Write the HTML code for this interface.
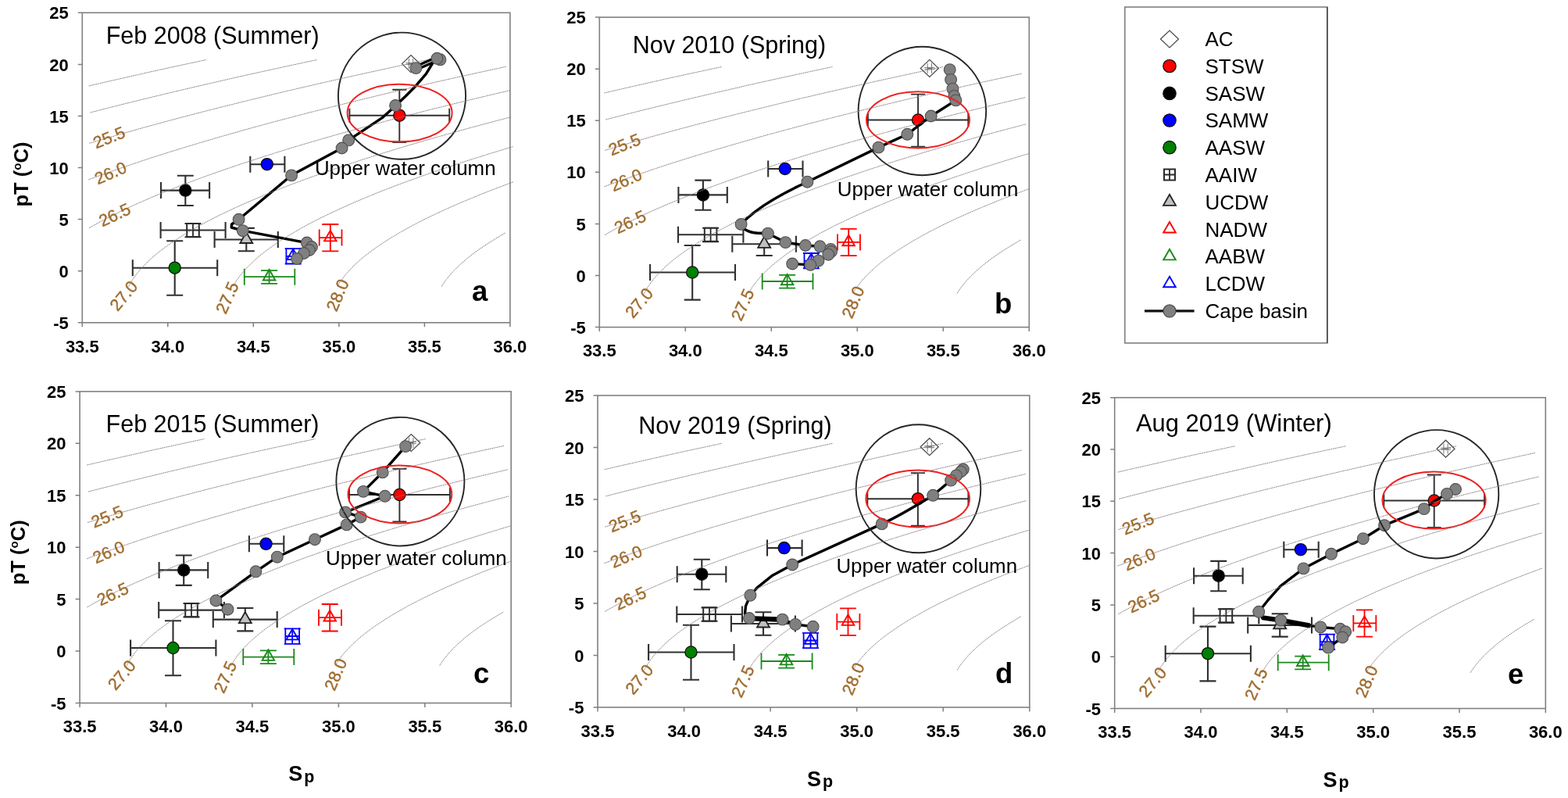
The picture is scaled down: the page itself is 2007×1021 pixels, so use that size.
<!DOCTYPE html><html><head><meta charset="utf-8"><title>TS diagrams</title><style>html,body{margin:0;padding:0;background:#fff}svg{display:block}text{font-family:"Liberation Sans", Arial, sans-serif}</style></head><body>
<svg width="2007" height="1021" viewBox="0 0 2007 1021">
<rect width="2007" height="1021" fill="#fff"/>
<rect x="105.3" y="16.3" width="547.6" height="396.5" fill="#fff" stroke="#808080" stroke-width="1.6"/>
<path d="M105.3 412.8v5.5M214.8 412.8v5.5M324.3 412.8v5.5M433.9 412.8v5.5M543.4 412.8v5.5M652.9 412.8v5.5M105.3 16.3h-5.5M105.3 82.4h-5.5M105.3 148.5h-5.5M105.3 214.6h-5.5M105.3 280.6h-5.5M105.3 346.7h-5.5M105.3 412.8h-5.5" stroke="#808080" stroke-width="1.5" fill="none"/>
<text x="105.3" y="450.6" text-anchor="middle" font-weight="bold" font-size="22">33.5</text>
<text x="214.8" y="450.6" text-anchor="middle" font-weight="bold" font-size="22">34.0</text>
<text x="324.3" y="450.6" text-anchor="middle" font-weight="bold" font-size="22">34.5</text>
<text x="433.9" y="450.6" text-anchor="middle" font-weight="bold" font-size="22">35.0</text>
<text x="543.4" y="450.6" text-anchor="middle" font-weight="bold" font-size="22">35.5</text>
<text x="652.9" y="450.6" text-anchor="middle" font-weight="bold" font-size="22">36.0</text>
<text x="87.7" y="24.4" text-anchor="end" font-weight="bold" font-size="22">25</text>
<text x="87.7" y="90.5" text-anchor="end" font-weight="bold" font-size="22">20</text>
<text x="87.7" y="156.6" text-anchor="end" font-weight="bold" font-size="22">15</text>
<text x="87.7" y="222.7" text-anchor="end" font-weight="bold" font-size="22">10</text>
<text x="87.7" y="288.7" text-anchor="end" font-weight="bold" font-size="22">5</text>
<text x="87.7" y="354.8" text-anchor="end" font-weight="bold" font-size="22">0</text>
<text x="87.7" y="420.9" text-anchor="end" font-weight="bold" font-size="22">-5</text>
<polygon points="514.5,81.6 526.0,70.6 537.5,81.6 526.0,92.6" fill="#fff" stroke="#4a4a4a" stroke-width="1.25"/>
<path d="M523.4 81.6H528.6M523.4 75.1v13.0M528.6 75.1v13.0" stroke="#6a6a6a" stroke-width="0.9" fill="none"/><path d="M526.0 80.6V82.6M519.5 80.6h13.0M519.5 82.6h13.0" stroke="#6a6a6a" stroke-width="0.9" fill="none"/>
<path d="M169.8 342.7H278.2M169.8 332.2v21.0M278.2 332.2v21.0" stroke="#303030" stroke-width="2.1" fill="none"/><path d="M223.7 308.2V377.8M213.2 308.2h21.0M213.2 377.8h21.0" stroke="#303030" stroke-width="2.1" fill="none"/>
<circle cx="223.7" cy="342.7" r="7.6" fill="#008000" stroke="#111" stroke-width="1.3"/>
<path d="M206.0 243.6H268.1M206.0 233.1v21.0M268.1 233.1v21.0" stroke="#303030" stroke-width="2.1" fill="none"/><path d="M237.3 224.8V263.0M226.8 224.8h21.0M226.8 263.0h21.0" stroke="#303030" stroke-width="2.1" fill="none"/>
<circle cx="237.3" cy="243.6" r="7.6" fill="#000000" stroke="#111" stroke-width="1.3"/>
<path d="M320.3 210.2H364.4M320.3 199.7v21.0M364.4 199.7v21.0" stroke="#303030" stroke-width="2.1" fill="none"/>
<circle cx="341.8" cy="210.2" r="7.6" fill="#0000ff" stroke="#111" stroke-width="1.3"/>
<path d="M205.6 294.5H288.6M205.6 284.0v21.0M288.6 284.0v21.0" stroke="#303030" stroke-width="2.1" fill="none"/><path d="M247.0 286.0V303.3M236.5 286.0h21.0M236.5 303.3h21.0" stroke="#303030" stroke-width="2.1" fill="none"/>
<rect x="239.2" y="286.0" width="15.6" height="17.0" fill="#fff" stroke="#2a2a2a" stroke-width="2"/><path d="M239.2 294.5h15.6M247.0 286.0v17.0" stroke="#2a2a2a" stroke-width="1.8"/>
<path d="M274.6 306.5H355.8M274.6 296.0v21.0M355.8 296.0v21.0" stroke="#303030" stroke-width="2.1" fill="none"/><path d="M315.3 291.9V321.2M304.8 291.9h21.0M304.8 321.2h21.0" stroke="#303030" stroke-width="2.1" fill="none"/>
<polygon points="307.3,311.0 323.3,311.0 315.3,297.0" fill="#c0c0c0" stroke="#222" stroke-width="1.8"/>
<path d="M408.7 304.1H437.5M408.7 293.6v21.0M437.5 293.6v21.0" stroke="#ff0000" stroke-width="1.8" fill="none"/><path d="M422.8 287.0V321.3M412.3 287.0h21.0M412.3 321.3h21.0" stroke="#ff0000" stroke-width="1.8" fill="none"/>
<polygon points="415.1,308.4 430.6,308.4 422.8,294.9" fill="none" stroke="#ff0000" stroke-width="1.9"/>
<path d="M312.8 354.2H377.3M312.8 343.7v21.0M377.3 343.7v21.0" stroke="#1a8a1a" stroke-width="1.8" fill="none"/><path d="M344.6 346.1V362.8M334.1 346.1h21.0M334.1 362.8h21.0" stroke="#1a8a1a" stroke-width="1.8" fill="none"/>
<polygon points="336.9,358.5 352.4,358.5 344.6,345.0" fill="none" stroke="#1a8a1a" stroke-width="1.9"/>
<path d="M366.4 327.8H384.0M366.4 317.3v21.0M384.0 317.3v21.0" stroke="#0000ff" stroke-width="1.8" fill="none"/><path d="M375.2 318.2V337.5M364.7 318.2h21.0M364.7 337.5h21.0" stroke="#0000ff" stroke-width="1.8" fill="none"/>
<polygon points="367.4,332.1 382.9,332.1 375.2,318.6" fill="none" stroke="#0000ff" stroke-width="1.9"/>
<path d="M447.4 147.7H575.2M447.4 138.7v18M575.2 138.7v18" stroke="#303030" stroke-width="1.9" fill="none"/><path d="M511.3 114.8V182.0M502.3 114.8h18M502.3 182.0h18" stroke="#303030" stroke-width="1.9" fill="none"/><circle cx="511.3" cy="147.7" r="7.6" fill="#ff0000" stroke="#111" stroke-width="1.3"/>
<path d="M531 85.5L558 73.5M533.5 89L560.5 77" fill="none" stroke="#000" stroke-width="3.4" stroke-linejoin="round" stroke-linecap="round"/>
<path d="M559.4 74.8L553.9 80.6L545.3 94.7L532.4 109.7L519.5 122.7L506.6 135L489.3 150.7L463.4 167.9L446.2 179.4L437.6 189.5L373.4 224L305.6 280.8L296.5 287L296.2 291L310.8 295.2L385.8 309.3L392.8 310.5L399 316L389 324L380 331" fill="none" stroke="#000" stroke-width="3.4" stroke-linejoin="round" stroke-linecap="round"/>
<circle cx="563.5" cy="76.3" r="7.4" fill="#808080" stroke="#505050" stroke-width="1.1"/>
<circle cx="559.4" cy="74.8" r="7.4" fill="#808080" stroke="#505050" stroke-width="1.1"/>
<circle cx="532.4" cy="87.1" r="7.4" fill="#808080" stroke="#505050" stroke-width="1.1"/>
<circle cx="506.1" cy="135.0" r="7.4" fill="#808080" stroke="#505050" stroke-width="1.1"/>
<circle cx="446.2" cy="179.4" r="7.4" fill="#808080" stroke="#505050" stroke-width="1.1"/>
<circle cx="437.6" cy="189.5" r="7.4" fill="#808080" stroke="#505050" stroke-width="1.1"/>
<circle cx="373.1" cy="224.4" r="7.4" fill="#808080" stroke="#505050" stroke-width="1.1"/>
<circle cx="305.6" cy="280.8" r="7.4" fill="#808080" stroke="#505050" stroke-width="1.1"/>
<circle cx="310.8" cy="295.2" r="7.4" fill="#808080" stroke="#505050" stroke-width="1.1"/>
<circle cx="392.8" cy="310.5" r="7.4" fill="#808080" stroke="#505050" stroke-width="1.1"/>
<circle cx="399.0" cy="316.0" r="7.4" fill="#808080" stroke="#505050" stroke-width="1.1"/>
<circle cx="396.0" cy="320.0" r="7.4" fill="#808080" stroke="#505050" stroke-width="1.1"/>
<circle cx="389.0" cy="324.0" r="7.4" fill="#808080" stroke="#505050" stroke-width="1.1"/>
<circle cx="380.0" cy="331.0" r="7.4" fill="#808080" stroke="#505050" stroke-width="1.1"/>
<ellipse cx="514.5" cy="122.7" rx="81.6" ry="81.1" fill="none" stroke="#262626" stroke-width="1.9"/>
<ellipse cx="511.6" cy="144.5" rx="67" ry="36.8" fill="none" stroke="#f02020" stroke-width="2"/>
<path d="M113.8 109.9 L126.3 107.0 L138.9 104.1 L151.7 101.2 L164.5 98.3 L177.5 95.4 L190.5 92.4 L203.7 89.5 L216.9 86.6 L230.3 83.7 L243.8 80.8 L257.4 77.9 L264.2 76.5" fill="none" stroke="#87767c" stroke-width="1" stroke-dasharray="1.6 0.8"/>
<path d="M115.6 144.0 L126.8 141.1 L138.2 138.2 L149.7 135.3 L161.2 132.4 L172.9 129.5 L184.7 126.6 L196.7 123.7 L208.7 120.8 L220.8 117.9 L233.1 115.0 L245.5 112.1 L258.0 109.2 L270.6 106.3 L283.3 103.4 L296.1 100.4 L309.0 97.5 L322.0 94.6 L335.2 91.7 L348.4 88.8 L361.8 85.9 L375.2 83.0 L388.8 80.1 L402.5 77.2 L405.9 76.5" fill="none" stroke="#87767c" stroke-width="1" stroke-dasharray="1.6 0.8"/>
<path d="M114.5 183.3 L124.3 180.4 L134.1 177.5 L144.1 174.6 L154.2 171.7 L164.4 168.8 L174.7 165.8 L185.1 162.9 L195.7 160.0 L206.4 157.1 L217.1 154.2 L228.0 151.3 L239.1 148.4 L250.2 145.5 L261.4 142.6 L272.8 139.7 L284.3 136.8 L295.9 133.9 L307.6 131.0 L319.4 128.1 L331.3 125.2 L343.4 122.2 L355.5 119.3 L367.8 116.4 L380.2 113.5 L392.6 110.6 L405.2 107.7 L417.9 104.8 L430.8 101.9 L443.7 99.0 L456.7 96.1 L469.9 93.2 L483.1 90.3 L496.5 87.4 L509.9 84.5 L523.5 81.5 L537.2 78.6 L547.5 76.5" fill="none" stroke="#87767c" stroke-width="1" stroke-dasharray="1.6 0.8"/>
<path d="M113.6 229.8 L121.4 226.9 L129.4 224.0 L137.5 221.1 L145.7 218.2 L154.0 215.3 L162.5 212.4 L171.0 209.5 L179.8 206.5 L188.6 203.6 L197.5 200.7 L206.6 197.8 L215.8 194.9 L225.1 192.0 L234.6 189.1 L244.1 186.2 L253.8 183.3 L263.6 180.4 L273.5 177.5 L283.5 174.6 L293.7 171.7 L304.0 168.8 L314.4 165.8 L324.9 162.9 L335.5 160.0 L346.2 157.1 L357.1 154.2 L368.1 151.3 L379.1 148.4 L390.3 145.5 L401.7 142.6 L413.1 139.7 L424.6 136.8 L436.3 133.9 L448.0 131.0 L459.9 128.1 L471.9 125.2 L484.0 122.2 L496.2 119.3 L508.6 116.4 L521.0 113.5 L533.5 110.6 L546.2 107.7 L559.0 104.8 L571.8 101.9 L584.8 99.0 L597.9 96.1 L611.1 93.2 L624.4 90.3 L637.8 87.4 L647.9 85.2" fill="none" stroke="#87767c" stroke-width="1" stroke-dasharray="1.6 0.8"/>
<path d="M114.2 291.6 L119.3 288.7 L124.5 285.8 L129.9 282.9 L135.4 279.9 L141.1 277.0 L146.9 274.1 L152.8 271.2 L158.9 268.3 L165.1 265.4 L171.4 262.5 L177.9 259.6 L184.5 256.7 L191.2 253.8 L198.0 250.9 L205.0 248.0 L212.1 245.1 L219.4 242.2 L226.8 239.2 L234.3 236.3 L241.9 233.4 L249.6 230.5 L257.5 227.6 L265.5 224.7 L273.7 221.8 L281.9 218.9 L290.3 216.0 L298.8 213.1 L307.4 210.2 L316.2 207.3 L325.0 204.4 L334.0 201.5 L343.2 198.6 L352.4 195.6 L361.8 192.7 L371.2 189.8 L380.8 186.9 L390.6 184.0 L400.4 181.1 L410.4 178.2 L420.4 175.3 L430.6 172.4 L440.9 169.5 L451.4 166.6 L461.9 163.7 L472.6 160.8 L483.4 157.9 L494.2 154.9 L505.3 152.0 L516.4 149.1 L527.6 146.2 L539.0 143.3 L550.4 140.4 L562.0 137.5 L573.7 134.6 L585.5 131.7 L597.4 128.8 L609.4 125.9 L621.6 123.0 L633.8 120.1 L646.2 117.2 L652.4 115.7" fill="none" stroke="#87767c" stroke-width="1" stroke-dasharray="1.6 0.8"/>
<path d="M164.8 366.4 L166.3 363.5 L168.0 360.6 L169.8 357.7 L171.8 354.8 L173.9 351.9 L176.1 349.0 L178.5 346.1 L181.1 343.2 L183.8 340.3 L186.6 337.4 L189.6 334.5 L192.7 331.5 L196.0 328.6 L199.5 325.7 L203.0 322.8 L206.7 319.9 L210.6 317.0 L214.6 314.1 L218.7 311.2 L223.0 308.3 L227.4 305.4 L232.0 302.5 L236.7 299.6 L241.5 296.7 L246.5 293.8 L251.6 290.8 L256.8 287.9 L262.2 285.0 L267.7 282.1 L273.4 279.2 L279.1 276.3 L285.1 273.4 L291.1 270.5 L297.3 267.6 L303.6 264.7 L310.1 261.8 L316.6 258.9 L323.4 256.0 L330.2 253.1 L337.2 250.2 L344.3 247.2 L351.5 244.3 L358.9 241.4 L366.3 238.5 L374.0 235.6 L381.7 232.7 L389.6 229.8 L397.5 226.9 L405.7 224.0 L413.9 221.1 L422.3 218.2 L430.8 215.3 L439.4 212.4 L448.1 209.5 L457.0 206.5 L465.9 203.6 L475.0 200.7 L484.3 197.8 L493.6 194.9 L503.1 192.0 L512.7 189.1 L522.4 186.2 L532.2 183.3 L542.1 180.4 L552.2 177.5 L562.4 174.6 L572.6 171.7 L583.1 168.8 L593.6 165.8 L604.2 162.9 L615.0 160.0 L625.9 157.1 L636.8 154.2 L647.9 151.3 L653.5 149.9" fill="none" stroke="#87767c" stroke-width="1" stroke-dasharray="1.6 0.8"/>
<path d="M298.3 366.4 L299.9 363.5 L301.7 360.6 L303.6 357.7 L305.7 354.8 L307.9 351.9 L310.3 349.0 L312.8 346.1 L315.4 343.2 L318.2 340.3 L321.2 337.4 L324.3 334.5 L327.5 331.5 L330.9 328.6 L334.4 325.7 L338.1 322.8 L341.9 319.9 L345.8 317.0 L349.9 314.1 L354.2 311.2 L358.5 308.3 L363.1 305.4 L367.7 302.5 L372.5 299.6 L377.4 296.7 L382.5 293.8 L387.7 290.8 L393.0 287.9 L398.5 285.0 L404.1 282.1 L409.8 279.2 L415.7 276.3 L421.7 273.4 L427.9 270.5 L434.1 267.6 L440.5 264.7 L447.1 261.8 L453.7 258.9 L460.5 256.0 L467.5 253.1 L474.5 250.2 L481.7 247.2 L489.0 244.3 L496.5 241.4 L504.0 238.5 L511.7 235.6 L519.5 232.7 L527.5 229.8 L535.6 226.9 L543.7 224.0 L552.1 221.1 L560.5 218.2 L569.1 215.3 L577.8 212.4 L586.6 209.5 L595.5 206.5 L604.6 203.6 L613.7 200.7 L623.0 197.8 L632.5 194.9 L642.0 192.0 L651.6 189.1 L656.5 187.7" fill="none" stroke="#87767c" stroke-width="1" stroke-dasharray="1.6 0.8"/>
<path d="M431.8 366.4 L433.5 363.5 L435.4 360.6 L437.4 357.7 L439.6 354.8 L441.9 351.9 L444.4 349.0 L447.0 346.1 L449.7 343.2 L452.7 340.3 L455.7 337.4 L458.9 334.5 L462.2 331.5 L465.7 328.6 L469.3 325.7 L473.1 322.8 L477.0 319.9 L481.1 317.0 L485.3 314.1 L489.6 311.2 L494.1 308.3 L498.7 305.4 L503.4 302.5 L508.3 299.6 L513.3 296.7 L518.5 293.8 L523.8 290.8 L529.2 287.9 L534.8 285.0 L540.5 282.1 L546.3 279.2 L552.3 276.3 L558.4 273.4 L564.6 270.5 L570.9 267.6 L577.4 264.7 L584.1 261.8 L590.8 258.9 L597.7 256.0 L604.7 253.1 L611.8 250.2 L619.1 247.2 L626.5 244.3 L634.0 241.4 L641.7 238.5 L649.4 235.6 L657.3 232.7 L657.3 232.7" fill="none" stroke="#87767c" stroke-width="1" stroke-dasharray="1.6 0.8"/>
<path d="M565.2 366.4 L567.1 363.5 L569.0 360.6 L571.2 357.7 L573.5 354.8 L575.9 351.9 L578.5 349.0 L581.2 346.1 L584.0 343.2 L587.1 340.3 L590.2 337.4 L593.5 334.5 L596.9 331.5 L600.5 328.6 L604.3 325.7 L608.1 322.8 L612.1 319.9 L616.3 317.0 L620.6 314.1 L625.0 311.2 L629.6 308.3 L634.3 305.4 L639.1 302.5 L644.1 299.6 L646.6 298.1" fill="none" stroke="#87767c" stroke-width="1" stroke-dasharray="1.6 0.8"/>
<text transform="translate(139.6 175.7) rotate(-22)" text-anchor="middle" font-size="21.5" fill="#a06e30" stroke="#a06e30" stroke-width="0.45" dy="7.6">25.5</text>
<text transform="translate(141.5 221.2) rotate(-23.5)" text-anchor="middle" font-size="21.5" fill="#a06e30" stroke="#a06e30" stroke-width="0.45" dy="7.6">26.0</text>
<text transform="translate(146.7 274.7) rotate(-25)" text-anchor="middle" font-size="21.5" fill="#a06e30" stroke="#a06e30" stroke-width="0.45" dy="7.6">26.5</text>
<text transform="translate(158.1 378.3) rotate(-50)" text-anchor="middle" font-size="21.5" fill="#a06e30" stroke="#a06e30" stroke-width="0.45" dy="7.6">27.0</text>
<text transform="translate(290.6 380.9) rotate(-66)" text-anchor="middle" font-size="21.5" fill="#a06e30" stroke="#a06e30" stroke-width="0.45" dy="7.6">27.5</text>
<text transform="translate(431.9 377.6) rotate(-67)" text-anchor="middle" font-size="21.5" fill="#a06e30" stroke="#a06e30" stroke-width="0.45" dy="7.6">28.0</text>
<text x="135.7" y="55.9" font-size="30.5">Feb 2008 (Summer)</text>
<text x="402.9" y="223.5" font-size="25.9">Upper water column</text>
<text x="604" y="384.5" font-size="36.5" font-weight="bold">a</text>
<rect x="767.3" y="22.1" width="550.0" height="396.5" fill="#fff" stroke="#808080" stroke-width="1.6"/>
<path d="M767.3 418.6v5.5M877.3 418.6v5.5M987.3 418.6v5.5M1097.3 418.6v5.5M1207.3 418.6v5.5M1317.3 418.6v5.5M767.3 22.1h-5.5M767.3 88.2h-5.5M767.3 154.3h-5.5M767.3 220.3h-5.5M767.3 286.4h-5.5M767.3 352.5h-5.5M767.3 418.6h-5.5" stroke="#808080" stroke-width="1.5" fill="none"/>
<text x="767.3" y="456.4" text-anchor="middle" font-weight="bold" font-size="22">33.5</text>
<text x="877.3" y="456.4" text-anchor="middle" font-weight="bold" font-size="22">34.0</text>
<text x="987.3" y="456.4" text-anchor="middle" font-weight="bold" font-size="22">34.5</text>
<text x="1097.3" y="456.4" text-anchor="middle" font-weight="bold" font-size="22">35.0</text>
<text x="1207.3" y="456.4" text-anchor="middle" font-weight="bold" font-size="22">35.5</text>
<text x="1317.3" y="456.4" text-anchor="middle" font-weight="bold" font-size="22">36.0</text>
<text x="749.7" y="30.2" text-anchor="end" font-weight="bold" font-size="22">25</text>
<text x="749.7" y="96.3" text-anchor="end" font-weight="bold" font-size="22">20</text>
<text x="749.7" y="162.4" text-anchor="end" font-weight="bold" font-size="22">15</text>
<text x="749.7" y="228.4" text-anchor="end" font-weight="bold" font-size="22">10</text>
<text x="749.7" y="294.5" text-anchor="end" font-weight="bold" font-size="22">5</text>
<text x="749.7" y="360.6" text-anchor="end" font-weight="bold" font-size="22">0</text>
<text x="749.7" y="426.7" text-anchor="end" font-weight="bold" font-size="22">-5</text>
<polygon points="1178.3,87.4 1189.8,76.4 1201.3,87.4 1189.8,98.4" fill="#fff" stroke="#4a4a4a" stroke-width="1.25"/>
<path d="M1187.2 87.4H1192.5M1187.2 80.9v13.0M1192.5 80.9v13.0" stroke="#6a6a6a" stroke-width="0.9" fill="none"/><path d="M1189.8 86.4V88.4M1183.3 86.4h13.0M1183.3 88.4h13.0" stroke="#6a6a6a" stroke-width="0.9" fill="none"/>
<path d="M832.1 348.5H941.0M832.1 338.0v21.0M941.0 338.0v21.0" stroke="#303030" stroke-width="2.1" fill="none"/><path d="M886.2 314.0V383.6M875.7 314.0h21.0M875.7 383.6h21.0" stroke="#303030" stroke-width="2.1" fill="none"/>
<circle cx="886.2" cy="348.5" r="7.6" fill="#008000" stroke="#111" stroke-width="1.3"/>
<path d="M868.4 249.4H930.8M868.4 238.9v21.0M930.8 238.9v21.0" stroke="#303030" stroke-width="2.1" fill="none"/><path d="M899.9 230.6V268.8M889.4 230.6h21.0M889.4 268.8h21.0" stroke="#303030" stroke-width="2.1" fill="none"/>
<circle cx="899.9" cy="249.4" r="7.6" fill="#000000" stroke="#111" stroke-width="1.3"/>
<path d="M983.2 216.0H1027.5M983.2 205.5v21.0M1027.5 205.5v21.0" stroke="#303030" stroke-width="2.1" fill="none"/>
<circle cx="1004.8" cy="216.0" r="7.6" fill="#0000ff" stroke="#111" stroke-width="1.3"/>
<path d="M868.0 300.3H951.4M868.0 289.8v21.0M951.4 289.8v21.0" stroke="#303030" stroke-width="2.1" fill="none"/><path d="M909.6 291.8V309.1M899.1 291.8h21.0M899.1 309.1h21.0" stroke="#303030" stroke-width="2.1" fill="none"/>
<rect x="901.8" y="291.8" width="15.6" height="17.0" fill="#fff" stroke="#2a2a2a" stroke-width="2"/><path d="M901.8 300.3h15.6M909.6 291.8v17.0" stroke="#2a2a2a" stroke-width="1.8"/>
<path d="M937.3 312.3H1018.9M937.3 301.8v21.0M1018.9 301.8v21.0" stroke="#303030" stroke-width="2.1" fill="none"/><path d="M978.2 297.7V327.0M967.7 297.7h21.0M967.7 327.0h21.0" stroke="#303030" stroke-width="2.1" fill="none"/>
<polygon points="970.2,316.8 986.2,316.8 978.2,302.8" fill="#c0c0c0" stroke="#222" stroke-width="1.8"/>
<path d="M1072.0 309.9H1101.0M1072.0 299.4v21.0M1101.0 299.4v21.0" stroke="#ff0000" stroke-width="1.8" fill="none"/><path d="M1086.2 292.8V327.1M1075.7 292.8h21.0M1075.7 327.1h21.0" stroke="#ff0000" stroke-width="1.8" fill="none"/>
<polygon points="1078.4,314.2 1093.9,314.2 1086.2,300.7" fill="none" stroke="#ff0000" stroke-width="1.9"/>
<path d="M975.7 360.0H1040.5M975.7 349.5v21.0M1040.5 349.5v21.0" stroke="#1a8a1a" stroke-width="1.8" fill="none"/><path d="M1007.6 351.9V368.6M997.1 351.9h21.0M997.1 368.6h21.0" stroke="#1a8a1a" stroke-width="1.8" fill="none"/>
<polygon points="999.9,364.3 1015.4,364.3 1007.6,350.8" fill="none" stroke="#1a8a1a" stroke-width="1.9"/>
<path d="M1029.5 333.6H1047.2M1029.5 323.1v21.0M1047.2 323.1v21.0" stroke="#0000ff" stroke-width="1.8" fill="none"/><path d="M1038.4 324.0V343.3M1027.9 324.0h21.0M1027.9 343.3h21.0" stroke="#0000ff" stroke-width="1.8" fill="none"/>
<polygon points="1030.6,337.9 1046.1,337.9 1038.4,324.4" fill="none" stroke="#0000ff" stroke-width="1.9"/>
<path d="M1110.9 153.5H1239.3M1110.9 144.5v18M1239.3 144.5v18" stroke="#303030" stroke-width="1.9" fill="none"/><path d="M1175.1 120.6V187.8M1166.1 120.6h18M1166.1 187.8h18" stroke="#303030" stroke-width="1.9" fill="none"/><circle cx="1175.1" cy="153.5" r="7.6" fill="#ff0000" stroke="#111" stroke-width="1.3"/>
<path d="M1215.7 89.2L1217.1 101.9L1219.5 113.7L1221.4 122.9L1223.4 128.4L1191.7 148.5L1161.3 171.8L1124.5 188.6L1033.4 232.7C1000 248,968 266,948.6 286.9C950 293,958 297.5,969.2 298.3L982.9 298.7L1005.4 310.1L1030.9 314L1049.5 315.3L1063.2 318.9L1060.3 325.7L1047.5 333.6L1037.3 338.9L1014.2 337.5" fill="none" stroke="#000" stroke-width="3.4" stroke-linejoin="round" stroke-linecap="round"/>
<circle cx="1215.7" cy="89.2" r="7.4" fill="#808080" stroke="#505050" stroke-width="1.1"/>
<circle cx="1217.1" cy="101.9" r="7.4" fill="#808080" stroke="#505050" stroke-width="1.1"/>
<circle cx="1219.5" cy="113.7" r="7.4" fill="#808080" stroke="#505050" stroke-width="1.1"/>
<circle cx="1221.4" cy="122.9" r="7.4" fill="#808080" stroke="#505050" stroke-width="1.1"/>
<circle cx="1223.4" cy="128.4" r="7.4" fill="#808080" stroke="#505050" stroke-width="1.1"/>
<circle cx="1191.7" cy="148.5" r="7.4" fill="#808080" stroke="#505050" stroke-width="1.1"/>
<circle cx="1161.3" cy="171.8" r="7.4" fill="#808080" stroke="#505050" stroke-width="1.1"/>
<circle cx="1124.5" cy="188.6" r="7.4" fill="#808080" stroke="#505050" stroke-width="1.1"/>
<circle cx="1033.4" cy="232.7" r="7.4" fill="#808080" stroke="#505050" stroke-width="1.1"/>
<circle cx="948.6" cy="286.9" r="7.4" fill="#808080" stroke="#505050" stroke-width="1.1"/>
<circle cx="982.9" cy="298.7" r="7.4" fill="#808080" stroke="#505050" stroke-width="1.1"/>
<circle cx="1005.4" cy="310.1" r="7.4" fill="#808080" stroke="#505050" stroke-width="1.1"/>
<circle cx="1030.9" cy="314.0" r="7.4" fill="#808080" stroke="#505050" stroke-width="1.1"/>
<circle cx="1049.5" cy="315.3" r="7.4" fill="#808080" stroke="#505050" stroke-width="1.1"/>
<circle cx="1063.2" cy="318.9" r="7.4" fill="#808080" stroke="#505050" stroke-width="1.1"/>
<circle cx="1064.0" cy="322.0" r="7.4" fill="#808080" stroke="#505050" stroke-width="1.1"/>
<circle cx="1060.3" cy="325.7" r="7.4" fill="#808080" stroke="#505050" stroke-width="1.1"/>
<circle cx="1047.5" cy="333.6" r="7.4" fill="#808080" stroke="#505050" stroke-width="1.1"/>
<circle cx="1014.2" cy="337.5" r="7.4" fill="#808080" stroke="#505050" stroke-width="1.1"/>
<circle cx="1037.3" cy="338.9" r="7.4" fill="#808080" stroke="#505050" stroke-width="1.1"/>
<ellipse cx="1180.4" cy="142" rx="81.8" ry="82.2" fill="none" stroke="#262626" stroke-width="1.9"/>
<ellipse cx="1175" cy="153.3" rx="66" ry="36.1" fill="none" stroke="#f02020" stroke-width="2"/>
<path d="M773.6 118.9 L786.1 116.0 L798.7 113.1 L811.5 110.2 L824.3 107.3 L837.3 104.4 L850.3 101.4 L863.5 98.5 L876.7 95.6 L890.1 92.7 L903.6 89.8 L917.2 86.9 L924.0 85.5" fill="none" stroke="#87767c" stroke-width="1" stroke-dasharray="1.6 0.8"/>
<path d="M775.4 153.0 L786.6 150.1 L798.0 147.2 L809.5 144.3 L821.0 141.4 L832.7 138.5 L844.5 135.6 L856.5 132.7 L868.5 129.8 L880.6 126.9 L892.9 124.0 L905.3 121.1 L917.8 118.2 L930.4 115.3 L943.1 112.4 L955.9 109.4 L968.8 106.5 L981.8 103.6 L995.0 100.7 L1008.2 97.8 L1021.6 94.9 L1035.0 92.0 L1048.6 89.1 L1062.3 86.2 L1065.7 85.5" fill="none" stroke="#87767c" stroke-width="1" stroke-dasharray="1.6 0.8"/>
<path d="M774.3 192.3 L784.1 189.4 L793.9 186.5 L803.9 183.6 L814.0 180.7 L824.2 177.8 L834.5 174.8 L844.9 171.9 L855.5 169.0 L866.2 166.1 L876.9 163.2 L887.8 160.3 L898.9 157.4 L910.0 154.5 L921.2 151.6 L932.6 148.7 L944.1 145.8 L955.7 142.9 L967.4 140.0 L979.2 137.1 L991.1 134.2 L1003.2 131.2 L1015.3 128.3 L1027.6 125.4 L1040.0 122.5 L1052.4 119.6 L1065.0 116.7 L1077.7 113.8 L1090.6 110.9 L1103.5 108.0 L1116.5 105.1 L1129.7 102.2 L1142.9 99.3 L1156.3 96.4 L1169.7 93.5 L1183.3 90.5 L1197.0 87.6 L1207.3 85.5" fill="none" stroke="#87767c" stroke-width="1" stroke-dasharray="1.6 0.8"/>
<path d="M773.4 238.8 L781.2 235.9 L789.2 233.0 L797.3 230.1 L805.5 227.2 L813.8 224.3 L822.3 221.4 L830.8 218.5 L839.6 215.5 L848.4 212.6 L857.3 209.7 L866.4 206.8 L875.6 203.9 L884.9 201.0 L894.4 198.1 L903.9 195.2 L913.6 192.3 L923.4 189.4 L933.3 186.5 L943.3 183.6 L953.5 180.7 L963.8 177.8 L974.2 174.8 L984.7 171.9 L995.3 169.0 L1006.0 166.1 L1016.9 163.2 L1027.9 160.3 L1038.9 157.4 L1050.1 154.5 L1061.5 151.6 L1072.9 148.7 L1084.4 145.8 L1096.1 142.9 L1107.8 140.0 L1119.7 137.1 L1131.7 134.2 L1143.8 131.2 L1156.0 128.3 L1168.4 125.4 L1180.8 122.5 L1193.3 119.6 L1206.0 116.7 L1218.8 113.8 L1231.6 110.9 L1244.6 108.0 L1257.7 105.1 L1270.9 102.2 L1284.2 99.3 L1297.6 96.4 L1307.7 94.2" fill="none" stroke="#87767c" stroke-width="1" stroke-dasharray="1.6 0.8"/>
<path d="M774.0 300.6 L779.1 297.7 L784.3 294.8 L789.7 291.9 L795.2 288.9 L800.9 286.0 L806.7 283.1 L812.6 280.2 L818.7 277.3 L824.9 274.4 L831.2 271.5 L837.7 268.6 L844.3 265.7 L851.0 262.8 L857.8 259.9 L864.8 257.0 L871.9 254.1 L879.2 251.2 L886.6 248.2 L894.1 245.3 L901.7 242.4 L909.4 239.5 L917.3 236.6 L925.3 233.7 L933.5 230.8 L941.7 227.9 L950.1 225.0 L958.6 222.1 L967.2 219.2 L976.0 216.3 L984.8 213.4 L993.8 210.5 L1003.0 207.6 L1012.2 204.6 L1021.6 201.7 L1031.0 198.8 L1040.6 195.9 L1050.4 193.0 L1060.2 190.1 L1070.2 187.2 L1080.2 184.3 L1090.4 181.4 L1100.7 178.5 L1111.2 175.6 L1121.7 172.7 L1132.4 169.8 L1143.2 166.9 L1154.0 163.9 L1165.1 161.0 L1176.2 158.1 L1187.4 155.2 L1198.8 152.3 L1210.2 149.4 L1221.8 146.5 L1233.5 143.6 L1245.3 140.7 L1257.2 137.8 L1269.2 134.9 L1281.4 132.0 L1293.6 129.1 L1306.0 126.2 L1312.2 124.7" fill="none" stroke="#87767c" stroke-width="1" stroke-dasharray="1.6 0.8"/>
<path d="M824.6 375.4 L826.1 372.5 L827.8 369.6 L829.6 366.7 L831.6 363.8 L833.7 360.9 L835.9 358.0 L838.3 355.1 L840.9 352.2 L843.6 349.3 L846.4 346.4 L849.4 343.5 L852.5 340.5 L855.8 337.6 L859.3 334.7 L862.8 331.8 L866.5 328.9 L870.4 326.0 L874.4 323.1 L878.5 320.2 L882.8 317.3 L887.2 314.4 L891.8 311.5 L896.5 308.6 L901.3 305.7 L906.3 302.8 L911.4 299.8 L916.6 296.9 L922.0 294.0 L927.5 291.1 L933.2 288.2 L938.9 285.3 L944.9 282.4 L950.9 279.5 L957.1 276.6 L963.4 273.7 L969.9 270.8 L976.4 267.9 L983.2 265.0 L990.0 262.1 L997.0 259.2 L1004.1 256.2 L1011.3 253.3 L1018.7 250.4 L1026.1 247.5 L1033.8 244.6 L1041.5 241.7 L1049.4 238.8 L1057.3 235.9 L1065.5 233.0 L1073.7 230.1 L1082.1 227.2 L1090.6 224.3 L1099.2 221.4 L1107.9 218.5 L1116.8 215.5 L1125.7 212.6 L1134.8 209.7 L1144.1 206.8 L1153.4 203.9 L1162.9 201.0 L1172.5 198.1 L1182.2 195.2 L1192.0 192.3 L1201.9 189.4 L1212.0 186.5 L1222.2 183.6 L1232.4 180.7 L1242.9 177.8 L1253.4 174.8 L1264.0 171.9 L1274.8 169.0 L1285.7 166.1 L1296.6 163.2 L1307.7 160.3 L1313.3 158.9" fill="none" stroke="#87767c" stroke-width="1" stroke-dasharray="1.6 0.8"/>
<path d="M958.1 375.4 L959.7 372.5 L961.5 369.6 L963.4 366.7 L965.5 363.8 L967.7 360.9 L970.1 358.0 L972.6 355.1 L975.2 352.2 L978.0 349.3 L981.0 346.4 L984.1 343.5 L987.3 340.5 L990.7 337.6 L994.2 334.7 L997.9 331.8 L1001.7 328.9 L1005.6 326.0 L1009.7 323.1 L1014.0 320.2 L1018.3 317.3 L1022.9 314.4 L1027.5 311.5 L1032.3 308.6 L1037.2 305.7 L1042.3 302.8 L1047.5 299.8 L1052.8 296.9 L1058.3 294.0 L1063.9 291.1 L1069.6 288.2 L1075.5 285.3 L1081.5 282.4 L1087.7 279.5 L1093.9 276.6 L1100.3 273.7 L1106.9 270.8 L1113.5 267.9 L1120.3 265.0 L1127.3 262.1 L1134.3 259.2 L1141.5 256.2 L1148.8 253.3 L1156.3 250.4 L1163.8 247.5 L1171.5 244.6 L1179.3 241.7 L1187.3 238.8 L1195.4 235.9 L1203.5 233.0 L1211.9 230.1 L1220.3 227.2 L1228.9 224.3 L1237.6 221.4 L1246.4 218.5 L1255.3 215.5 L1264.4 212.6 L1273.5 209.7 L1282.8 206.8 L1292.3 203.9 L1301.8 201.0 L1311.4 198.1 L1316.3 196.7" fill="none" stroke="#87767c" stroke-width="1" stroke-dasharray="1.6 0.8"/>
<path d="M1091.6 375.4 L1093.3 372.5 L1095.2 369.6 L1097.2 366.7 L1099.4 363.8 L1101.7 360.9 L1104.2 358.0 L1106.8 355.1 L1109.5 352.2 L1112.5 349.3 L1115.5 346.4 L1118.7 343.5 L1122.0 340.5 L1125.5 337.6 L1129.1 334.7 L1132.9 331.8 L1136.8 328.9 L1140.9 326.0 L1145.1 323.1 L1149.4 320.2 L1153.9 317.3 L1158.5 314.4 L1163.2 311.5 L1168.1 308.6 L1173.1 305.7 L1178.3 302.8 L1183.6 299.8 L1189.0 296.9 L1194.6 294.0 L1200.3 291.1 L1206.1 288.2 L1212.1 285.3 L1218.2 282.4 L1224.4 279.5 L1230.7 276.6 L1237.2 273.7 L1243.9 270.8 L1250.6 267.9 L1257.5 265.0 L1264.5 262.1 L1271.6 259.2 L1278.9 256.2 L1286.3 253.3 L1293.8 250.4 L1301.5 247.5 L1309.2 244.6 L1317.1 241.7 L1317.1 241.7" fill="none" stroke="#87767c" stroke-width="1" stroke-dasharray="1.6 0.8"/>
<path d="M1225.0 375.4 L1226.9 372.5 L1228.8 369.6 L1231.0 366.7 L1233.3 363.8 L1235.7 360.9 L1238.3 358.0 L1241.0 355.1 L1243.8 352.2 L1246.9 349.3 L1250.0 346.4 L1253.3 343.5 L1256.7 340.5 L1260.3 337.6 L1264.1 334.7 L1267.9 331.8 L1271.9 328.9 L1276.1 326.0 L1280.4 323.1 L1284.8 320.2 L1289.4 317.3 L1294.1 314.4 L1298.9 311.5 L1303.9 308.6 L1306.4 307.1" fill="none" stroke="#87767c" stroke-width="1" stroke-dasharray="1.6 0.8"/>
<text transform="translate(799.4 184.7) rotate(-22)" text-anchor="middle" font-size="21.5" fill="#a06e30" stroke="#a06e30" stroke-width="0.45" dy="7.6">25.5</text>
<text transform="translate(801.3 230.2) rotate(-23.5)" text-anchor="middle" font-size="21.5" fill="#a06e30" stroke="#a06e30" stroke-width="0.45" dy="7.6">26.0</text>
<text transform="translate(806.5 283.7) rotate(-25)" text-anchor="middle" font-size="21.5" fill="#a06e30" stroke="#a06e30" stroke-width="0.45" dy="7.6">26.5</text>
<text transform="translate(817.9 387.3) rotate(-50)" text-anchor="middle" font-size="21.5" fill="#a06e30" stroke="#a06e30" stroke-width="0.45" dy="7.6">27.0</text>
<text transform="translate(950.4 389.9) rotate(-66)" text-anchor="middle" font-size="21.5" fill="#a06e30" stroke="#a06e30" stroke-width="0.45" dy="7.6">27.5</text>
<text transform="translate(1091.7 386.6) rotate(-67)" text-anchor="middle" font-size="21.5" fill="#a06e30" stroke="#a06e30" stroke-width="0.45" dy="7.6">28.0</text>
<text x="809.7" y="67.6" font-size="30.5">Nov 2010 (Spring)</text>
<text x="1071.8" y="250.9" font-size="25.9">Upper water column</text>
<text x="1273" y="401.2" font-size="36.5" font-weight="bold">b</text>
<rect x="102.1" y="500.9" width="552.1" height="398.6" fill="#fff" stroke="#808080" stroke-width="1.6"/>
<path d="M102.1 899.5v5.5M212.5 899.5v5.5M322.9 899.5v5.5M433.4 899.5v5.5M543.8 899.5v5.5M654.2 899.5v5.5M102.1 500.9h-5.5M102.1 567.3h-5.5M102.1 633.8h-5.5M102.1 700.2h-5.5M102.1 766.6h-5.5M102.1 833.1h-5.5M102.1 899.5h-5.5" stroke="#808080" stroke-width="1.5" fill="none"/>
<text x="102.1" y="937.3" text-anchor="middle" font-weight="bold" font-size="22">33.5</text>
<text x="212.5" y="937.3" text-anchor="middle" font-weight="bold" font-size="22">34.0</text>
<text x="322.9" y="937.3" text-anchor="middle" font-weight="bold" font-size="22">34.5</text>
<text x="433.4" y="937.3" text-anchor="middle" font-weight="bold" font-size="22">35.0</text>
<text x="543.8" y="937.3" text-anchor="middle" font-weight="bold" font-size="22">35.5</text>
<text x="654.2" y="937.3" text-anchor="middle" font-weight="bold" font-size="22">36.0</text>
<text x="84.5" y="509.0" text-anchor="end" font-weight="bold" font-size="22">25</text>
<text x="84.5" y="575.4" text-anchor="end" font-weight="bold" font-size="22">20</text>
<text x="84.5" y="641.9" text-anchor="end" font-weight="bold" font-size="22">15</text>
<text x="84.5" y="708.3" text-anchor="end" font-weight="bold" font-size="22">10</text>
<text x="84.5" y="774.7" text-anchor="end" font-weight="bold" font-size="22">5</text>
<text x="84.5" y="841.2" text-anchor="end" font-weight="bold" font-size="22">0</text>
<text x="84.5" y="907.6" text-anchor="end" font-weight="bold" font-size="22">-5</text>
<polygon points="514.8,566.5 526.3,555.5 537.8,566.5 526.3,577.5" fill="#fff" stroke="#4a4a4a" stroke-width="1.25"/>
<path d="M523.6 566.5H528.9M523.6 560.0v13.0M528.9 560.0v13.0" stroke="#6a6a6a" stroke-width="0.9" fill="none"/><path d="M526.3 565.5V567.6M519.8 565.5h13.0M519.8 567.6h13.0" stroke="#6a6a6a" stroke-width="0.9" fill="none"/>
<path d="M167.1 829.0H276.4M167.1 818.5v21.0M276.4 818.5v21.0" stroke="#303030" stroke-width="2.1" fill="none"/><path d="M221.5 794.3V864.3M211.0 794.3h21.0M211.0 864.3h21.0" stroke="#303030" stroke-width="2.1" fill="none"/>
<circle cx="221.5" cy="829.0" r="7.6" fill="#008000" stroke="#111" stroke-width="1.3"/>
<path d="M203.6 729.4H266.2M203.6 718.9v21.0M266.2 718.9v21.0" stroke="#303030" stroke-width="2.1" fill="none"/><path d="M235.2 710.5V748.9M224.7 710.5h21.0M224.7 748.9h21.0" stroke="#303030" stroke-width="2.1" fill="none"/>
<circle cx="235.2" cy="729.4" r="7.6" fill="#000000" stroke="#111" stroke-width="1.3"/>
<path d="M318.9 695.8H363.3M318.9 685.3v21.0M363.3 685.3v21.0" stroke="#303030" stroke-width="2.1" fill="none"/>
<circle cx="340.5" cy="695.8" r="7.6" fill="#0000ff" stroke="#111" stroke-width="1.3"/>
<path d="M203.2 780.6H286.9M203.2 770.1v21.0M286.9 770.1v21.0" stroke="#303030" stroke-width="2.1" fill="none"/><path d="M245.0 772.0V789.4M234.5 772.0h21.0M234.5 789.4h21.0" stroke="#303030" stroke-width="2.1" fill="none"/>
<rect x="237.2" y="772.1" width="15.6" height="17.0" fill="#fff" stroke="#2a2a2a" stroke-width="2"/><path d="M237.2 780.6h15.6M245.0 772.1v17.0" stroke="#2a2a2a" stroke-width="1.8"/>
<path d="M272.8 792.6H354.7M272.8 782.1v21.0M354.7 782.1v21.0" stroke="#303030" stroke-width="2.1" fill="none"/><path d="M313.8 778.0V807.4M303.3 778.0h21.0M303.3 807.4h21.0" stroke="#303030" stroke-width="2.1" fill="none"/>
<polygon points="305.8,797.1 321.8,797.1 313.8,783.1" fill="#c0c0c0" stroke="#222" stroke-width="1.8"/>
<path d="M408.0 790.2H437.0M408.0 779.7v21.0M437.0 779.7v21.0" stroke="#ff0000" stroke-width="1.8" fill="none"/><path d="M422.2 773.0V807.5M411.7 773.0h21.0M411.7 807.5h21.0" stroke="#ff0000" stroke-width="1.8" fill="none"/>
<polygon points="414.5,794.5 430.0,794.5 422.2,781.0" fill="none" stroke="#ff0000" stroke-width="1.9"/>
<path d="M311.3 840.6H376.3M311.3 830.1v21.0M376.3 830.1v21.0" stroke="#1a8a1a" stroke-width="1.8" fill="none"/><path d="M343.4 832.4V849.2M332.9 832.4h21.0M332.9 849.2h21.0" stroke="#1a8a1a" stroke-width="1.8" fill="none"/>
<polygon points="335.6,844.9 351.1,844.9 343.4,831.4" fill="none" stroke="#1a8a1a" stroke-width="1.9"/>
<path d="M365.3 814.0H383.1M365.3 803.5v21.0M383.1 803.5v21.0" stroke="#0000ff" stroke-width="1.8" fill="none"/><path d="M374.2 804.4V823.8M363.7 804.4h21.0M363.7 823.8h21.0" stroke="#0000ff" stroke-width="1.8" fill="none"/>
<polygon points="366.5,818.4 382.0,818.4 374.2,804.9" fill="none" stroke="#0000ff" stroke-width="1.9"/>
<path d="M447.0 633.0H575.9M447.0 624.0v18M575.9 624.0v18" stroke="#303030" stroke-width="1.9" fill="none"/><path d="M511.4 599.9V667.5M502.4 599.9h18M502.4 667.5h18" stroke="#303030" stroke-width="1.9" fill="none"/><circle cx="511.4" cy="633.0" r="7.6" fill="#ff0000" stroke="#111" stroke-width="1.3"/>
<path d="M519.1 571.1L489.7 604.4L465 628.9L492.7 634.8L442.1 655.4L461.7 661.6L443.7 671.4L403 690.2L354.8 712.7L327.4 731.3L276.4 768.5L291.5 779.7" fill="none" stroke="#000" stroke-width="3.4" stroke-linejoin="round" stroke-linecap="round"/>
<circle cx="519.1" cy="571.1" r="7.4" fill="#808080" stroke="#505050" stroke-width="1.1"/>
<circle cx="489.7" cy="604.4" r="7.4" fill="#808080" stroke="#505050" stroke-width="1.1"/>
<circle cx="465.0" cy="628.9" r="7.4" fill="#808080" stroke="#505050" stroke-width="1.1"/>
<circle cx="492.7" cy="634.8" r="7.4" fill="#808080" stroke="#505050" stroke-width="1.1"/>
<circle cx="442.1" cy="655.4" r="7.4" fill="#808080" stroke="#505050" stroke-width="1.1"/>
<circle cx="461.7" cy="661.6" r="7.4" fill="#808080" stroke="#505050" stroke-width="1.1"/>
<circle cx="443.7" cy="671.4" r="7.4" fill="#808080" stroke="#505050" stroke-width="1.1"/>
<circle cx="403.0" cy="690.2" r="7.4" fill="#808080" stroke="#505050" stroke-width="1.1"/>
<circle cx="354.8" cy="712.7" r="7.4" fill="#808080" stroke="#505050" stroke-width="1.1"/>
<circle cx="327.4" cy="731.3" r="7.4" fill="#808080" stroke="#505050" stroke-width="1.1"/>
<circle cx="276.4" cy="768.5" r="7.4" fill="#808080" stroke="#505050" stroke-width="1.1"/>
<circle cx="291.5" cy="779.7" r="7.4" fill="#808080" stroke="#505050" stroke-width="1.1"/>
<ellipse cx="512.4" cy="616.2" rx="82.0" ry="82.3" fill="none" stroke="#262626" stroke-width="1.9"/>
<ellipse cx="511.9" cy="632.5" rx="66.4" ry="37" fill="none" stroke="#f02020" stroke-width="2"/>
<path d="M111.3 595.0 L123.8 592.1 L136.4 589.2 L149.2 586.3 L162.0 583.4 L175.0 580.5 L188.0 577.5 L201.2 574.6 L214.4 571.7 L227.8 568.8 L241.3 565.9 L254.9 563.0 L261.7 561.6" fill="none" stroke="#87767c" stroke-width="1" stroke-dasharray="1.6 0.8"/>
<path d="M113.1 629.1 L124.3 626.2 L135.7 623.3 L147.2 620.4 L158.7 617.5 L170.4 614.6 L182.2 611.7 L194.2 608.8 L206.2 605.9 L218.3 603.0 L230.6 600.1 L243.0 597.2 L255.5 594.3 L268.1 591.4 L280.8 588.5 L293.6 585.5 L306.5 582.6 L319.5 579.7 L332.7 576.8 L345.9 573.9 L359.3 571.0 L372.7 568.1 L386.3 565.2 L400.0 562.3 L403.4 561.6" fill="none" stroke="#87767c" stroke-width="1" stroke-dasharray="1.6 0.8"/>
<path d="M112.0 668.4 L121.8 665.5 L131.6 662.6 L141.6 659.7 L151.7 656.8 L161.9 653.9 L172.2 650.9 L182.6 648.0 L193.2 645.1 L203.9 642.2 L214.6 639.3 L225.5 636.4 L236.6 633.5 L247.7 630.6 L258.9 627.7 L270.3 624.8 L281.8 621.9 L293.4 619.0 L305.1 616.1 L316.9 613.2 L328.8 610.3 L340.9 607.3 L353.0 604.4 L365.3 601.5 L377.7 598.6 L390.1 595.7 L402.7 592.8 L415.4 589.9 L428.3 587.0 L441.2 584.1 L454.2 581.2 L467.4 578.3 L480.6 575.4 L494.0 572.5 L507.4 569.6 L521.0 566.6 L534.7 563.7 L545.0 561.6" fill="none" stroke="#87767c" stroke-width="1" stroke-dasharray="1.6 0.8"/>
<path d="M111.1 714.9 L118.9 712.0 L126.9 709.1 L135.0 706.2 L143.2 703.3 L151.5 700.4 L160.0 697.5 L168.5 694.6 L177.3 691.6 L186.1 688.7 L195.0 685.8 L204.1 682.9 L213.3 680.0 L222.6 677.1 L232.1 674.2 L241.6 671.3 L251.3 668.4 L261.1 665.5 L271.0 662.6 L281.0 659.7 L291.2 656.8 L301.5 653.9 L311.9 650.9 L322.4 648.0 L333.0 645.1 L343.7 642.2 L354.6 639.3 L365.6 636.4 L376.6 633.5 L387.8 630.6 L399.2 627.7 L410.6 624.8 L422.1 621.9 L433.8 619.0 L445.5 616.1 L457.4 613.2 L469.4 610.3 L481.5 607.3 L493.7 604.4 L506.1 601.5 L518.5 598.6 L531.0 595.7 L543.7 592.8 L556.5 589.9 L569.3 587.0 L582.3 584.1 L595.4 581.2 L608.6 578.3 L621.9 575.4 L635.3 572.5 L645.4 570.3" fill="none" stroke="#87767c" stroke-width="1" stroke-dasharray="1.6 0.8"/>
<path d="M111.7 776.7 L116.8 773.8 L122.0 770.9 L127.4 768.0 L132.9 765.0 L138.6 762.1 L144.4 759.2 L150.3 756.3 L156.4 753.4 L162.6 750.5 L168.9 747.6 L175.4 744.7 L182.0 741.8 L188.7 738.9 L195.5 736.0 L202.5 733.1 L209.6 730.2 L216.9 727.3 L224.3 724.3 L231.8 721.4 L239.4 718.5 L247.1 715.6 L255.0 712.7 L263.0 709.8 L271.2 706.9 L279.4 704.0 L287.8 701.1 L296.3 698.2 L304.9 695.3 L313.7 692.4 L322.5 689.5 L331.5 686.6 L340.7 683.7 L349.9 680.7 L359.3 677.8 L368.7 674.9 L378.3 672.0 L388.1 669.1 L397.9 666.2 L407.9 663.3 L417.9 660.4 L428.1 657.5 L438.4 654.6 L448.9 651.7 L459.4 648.8 L470.1 645.9 L480.9 643.0 L491.7 640.0 L502.8 637.1 L513.9 634.2 L525.1 631.3 L536.5 628.4 L547.9 625.5 L559.5 622.6 L571.2 619.7 L583.0 616.8 L594.9 613.9 L606.9 611.0 L619.1 608.1 L631.3 605.2 L643.7 602.3 L649.9 600.8" fill="none" stroke="#87767c" stroke-width="1" stroke-dasharray="1.6 0.8"/>
<path d="M162.3 851.5 L163.8 848.6 L165.5 845.7 L167.3 842.8 L169.3 839.9 L171.4 837.0 L173.6 834.1 L176.0 831.2 L178.6 828.3 L181.3 825.4 L184.1 822.5 L187.1 819.6 L190.2 816.6 L193.5 813.7 L197.0 810.8 L200.5 807.9 L204.2 805.0 L208.1 802.1 L212.1 799.2 L216.2 796.3 L220.5 793.4 L224.9 790.5 L229.5 787.6 L234.2 784.7 L239.0 781.8 L244.0 778.9 L249.1 775.9 L254.3 773.0 L259.7 770.1 L265.2 767.2 L270.9 764.3 L276.6 761.4 L282.6 758.5 L288.6 755.6 L294.8 752.7 L301.1 749.8 L307.6 746.9 L314.1 744.0 L320.9 741.1 L327.7 738.2 L334.7 735.3 L341.8 732.3 L349.0 729.4 L356.4 726.5 L363.8 723.6 L371.5 720.7 L379.2 717.8 L387.1 714.9 L395.0 712.0 L403.2 709.1 L411.4 706.2 L419.8 703.3 L428.3 700.4 L436.9 697.5 L445.6 694.6 L454.5 691.6 L463.4 688.7 L472.5 685.8 L481.8 682.9 L491.1 680.0 L500.6 677.1 L510.2 674.2 L519.9 671.3 L529.7 668.4 L539.6 665.5 L549.7 662.6 L559.9 659.7 L570.1 656.8 L580.6 653.9 L591.1 650.9 L601.7 648.0 L612.5 645.1 L623.4 642.2 L634.3 639.3 L645.4 636.4 L651.0 635.0" fill="none" stroke="#87767c" stroke-width="1" stroke-dasharray="1.6 0.8"/>
<path d="M295.8 851.5 L297.4 848.6 L299.2 845.7 L301.1 842.8 L303.2 839.9 L305.4 837.0 L307.8 834.1 L310.3 831.2 L312.9 828.3 L315.7 825.4 L318.7 822.5 L321.8 819.6 L325.0 816.6 L328.4 813.7 L331.9 810.8 L335.6 807.9 L339.4 805.0 L343.3 802.1 L347.4 799.2 L351.7 796.3 L356.0 793.4 L360.6 790.5 L365.2 787.6 L370.0 784.7 L374.9 781.8 L380.0 778.9 L385.2 775.9 L390.5 773.0 L396.0 770.1 L401.6 767.2 L407.3 764.3 L413.2 761.4 L419.2 758.5 L425.4 755.6 L431.6 752.7 L438.0 749.8 L444.6 746.9 L451.2 744.0 L458.0 741.1 L465.0 738.2 L472.0 735.3 L479.2 732.3 L486.5 729.4 L494.0 726.5 L501.5 723.6 L509.2 720.7 L517.0 717.8 L525.0 714.9 L533.1 712.0 L541.2 709.1 L549.6 706.2 L558.0 703.3 L566.6 700.4 L575.3 697.5 L584.1 694.6 L593.0 691.6 L602.1 688.7 L611.2 685.8 L620.5 682.9 L630.0 680.0 L639.5 677.1 L649.1 674.2 L654.0 672.8" fill="none" stroke="#87767c" stroke-width="1" stroke-dasharray="1.6 0.8"/>
<path d="M429.3 851.5 L431.0 848.6 L432.9 845.7 L434.9 842.8 L437.1 839.9 L439.4 837.0 L441.9 834.1 L444.5 831.2 L447.2 828.3 L450.2 825.4 L453.2 822.5 L456.4 819.6 L459.7 816.6 L463.2 813.7 L466.8 810.8 L470.6 807.9 L474.5 805.0 L478.6 802.1 L482.8 799.2 L487.1 796.3 L491.6 793.4 L496.2 790.5 L500.9 787.6 L505.8 784.7 L510.8 781.8 L516.0 778.9 L521.3 775.9 L526.7 773.0 L532.3 770.1 L538.0 767.2 L543.8 764.3 L549.8 761.4 L555.9 758.5 L562.1 755.6 L568.4 752.7 L574.9 749.8 L581.6 746.9 L588.3 744.0 L595.2 741.1 L602.2 738.2 L609.3 735.3 L616.6 732.3 L624.0 729.4 L631.5 726.5 L639.2 723.6 L646.9 720.7 L654.8 717.8 L654.8 717.8" fill="none" stroke="#87767c" stroke-width="1" stroke-dasharray="1.6 0.8"/>
<path d="M562.7 851.5 L564.6 848.6 L566.5 845.7 L568.7 842.8 L571.0 839.9 L573.4 837.0 L576.0 834.1 L578.7 831.2 L581.5 828.3 L584.6 825.4 L587.7 822.5 L591.0 819.6 L594.4 816.6 L598.0 813.7 L601.8 810.8 L605.6 807.9 L609.6 805.0 L613.8 802.1 L618.1 799.2 L622.5 796.3 L627.1 793.4 L631.8 790.5 L636.6 787.6 L641.6 784.7 L644.1 783.2" fill="none" stroke="#87767c" stroke-width="1" stroke-dasharray="1.6 0.8"/>
<text transform="translate(137.1 660.8) rotate(-22)" text-anchor="middle" font-size="21.5" fill="#a06e30" stroke="#a06e30" stroke-width="0.45" dy="7.6">25.5</text>
<text transform="translate(139.0 706.3) rotate(-23.5)" text-anchor="middle" font-size="21.5" fill="#a06e30" stroke="#a06e30" stroke-width="0.45" dy="7.6">26.0</text>
<text transform="translate(144.2 759.8) rotate(-25)" text-anchor="middle" font-size="21.5" fill="#a06e30" stroke="#a06e30" stroke-width="0.45" dy="7.6">26.5</text>
<text transform="translate(155.6 863.4) rotate(-50)" text-anchor="middle" font-size="21.5" fill="#a06e30" stroke="#a06e30" stroke-width="0.45" dy="7.6">27.0</text>
<text transform="translate(288.1 866.0) rotate(-66)" text-anchor="middle" font-size="21.5" fill="#a06e30" stroke="#a06e30" stroke-width="0.45" dy="7.6">27.5</text>
<text transform="translate(429.4 862.7) rotate(-67)" text-anchor="middle" font-size="21.5" fill="#a06e30" stroke="#a06e30" stroke-width="0.45" dy="7.6">28.0</text>
<text x="135.6" y="552.9" font-size="30.5">Feb 2015 (Summer)</text>
<text x="417.0" y="723" font-size="25.9">Upper water column</text>
<text x="606" y="874.2" font-size="36.5" font-weight="bold">c</text>
<rect x="765.0" y="506.0" width="552.8" height="399.0" fill="#fff" stroke="#808080" stroke-width="1.6"/>
<path d="M765.0 905.0v5.5M875.6 905.0v5.5M986.1 905.0v5.5M1096.7 905.0v5.5M1207.2 905.0v5.5M1317.8 905.0v5.5M765.0 506.0h-5.5M765.0 572.5h-5.5M765.0 639.0h-5.5M765.0 705.5h-5.5M765.0 772.0h-5.5M765.0 838.5h-5.5M765.0 905.0h-5.5" stroke="#808080" stroke-width="1.5" fill="none"/>
<text x="765.0" y="942.8" text-anchor="middle" font-weight="bold" font-size="22">33.5</text>
<text x="875.6" y="942.8" text-anchor="middle" font-weight="bold" font-size="22">34.0</text>
<text x="986.1" y="942.8" text-anchor="middle" font-weight="bold" font-size="22">34.5</text>
<text x="1096.7" y="942.8" text-anchor="middle" font-weight="bold" font-size="22">35.0</text>
<text x="1207.2" y="942.8" text-anchor="middle" font-weight="bold" font-size="22">35.5</text>
<text x="1317.8" y="942.8" text-anchor="middle" font-weight="bold" font-size="22">36.0</text>
<text x="747.4" y="514.1" text-anchor="end" font-weight="bold" font-size="22">25</text>
<text x="747.4" y="580.6" text-anchor="end" font-weight="bold" font-size="22">20</text>
<text x="747.4" y="647.1" text-anchor="end" font-weight="bold" font-size="22">15</text>
<text x="747.4" y="713.6" text-anchor="end" font-weight="bold" font-size="22">10</text>
<text x="747.4" y="780.1" text-anchor="end" font-weight="bold" font-size="22">5</text>
<text x="747.4" y="846.6" text-anchor="end" font-weight="bold" font-size="22">0</text>
<text x="747.4" y="913.1" text-anchor="end" font-weight="bold" font-size="22">-5</text>
<polygon points="1178.2,571.7 1189.7,560.7 1201.2,571.7 1189.7,582.7" fill="#fff" stroke="#4a4a4a" stroke-width="1.25"/>
<path d="M1187.1 571.7H1192.3M1187.1 565.2v13.0M1192.3 565.2v13.0" stroke="#6a6a6a" stroke-width="0.9" fill="none"/><path d="M1189.7 570.7V572.7M1183.2 570.7h13.0M1183.2 572.7h13.0" stroke="#6a6a6a" stroke-width="0.9" fill="none"/>
<path d="M830.1 834.5H939.5M830.1 824.0v21.0M939.5 824.0v21.0" stroke="#303030" stroke-width="2.1" fill="none"/><path d="M884.5 799.7V869.8M874.0 799.7h21.0M874.0 869.8h21.0" stroke="#303030" stroke-width="2.1" fill="none"/>
<circle cx="884.5" cy="834.5" r="7.6" fill="#008000" stroke="#111" stroke-width="1.3"/>
<path d="M866.7 734.7H929.3M866.7 724.2v21.0M929.3 724.2v21.0" stroke="#303030" stroke-width="2.1" fill="none"/><path d="M898.3 715.8V754.3M887.8 715.8h21.0M887.8 754.3h21.0" stroke="#303030" stroke-width="2.1" fill="none"/>
<circle cx="898.3" cy="734.7" r="7.6" fill="#000000" stroke="#111" stroke-width="1.3"/>
<path d="M982.0 701.1H1026.6M982.0 690.6v21.0M1026.6 690.6v21.0" stroke="#303030" stroke-width="2.1" fill="none"/>
<circle cx="1003.7" cy="701.1" r="7.6" fill="#0000ff" stroke="#111" stroke-width="1.3"/>
<path d="M866.3 786.0H950.0M866.3 775.5v21.0M950.0 775.5v21.0" stroke="#303030" stroke-width="2.1" fill="none"/><path d="M908.0 777.4V794.8M897.5 777.4h21.0M897.5 794.8h21.0" stroke="#303030" stroke-width="2.1" fill="none"/>
<rect x="900.2" y="777.5" width="15.6" height="17.0" fill="#fff" stroke="#2a2a2a" stroke-width="2"/><path d="M900.2 786.0h15.6M908.0 777.5v17.0" stroke="#2a2a2a" stroke-width="1.8"/>
<path d="M935.9 798.0H1017.9M935.9 787.5v21.0M1017.9 787.5v21.0" stroke="#303030" stroke-width="2.1" fill="none"/><path d="M977.0 783.3V812.8M966.5 783.3h21.0M966.5 812.8h21.0" stroke="#303030" stroke-width="2.1" fill="none"/>
<polygon points="969.0,802.5 985.0,802.5 977.0,788.5" fill="#c0c0c0" stroke="#222" stroke-width="1.8"/>
<path d="M1071.3 795.6H1100.4M1071.3 785.1v21.0M1100.4 785.1v21.0" stroke="#ff0000" stroke-width="1.8" fill="none"/><path d="M1085.5 778.4V812.9M1075.0 778.4h21.0M1075.0 812.9h21.0" stroke="#ff0000" stroke-width="1.8" fill="none"/>
<polygon points="1077.8,799.9 1093.3,799.9 1085.5,786.4" fill="none" stroke="#ff0000" stroke-width="1.9"/>
<path d="M974.5 846.0H1039.6M974.5 835.5v21.0M1039.6 835.5v21.0" stroke="#1a8a1a" stroke-width="1.8" fill="none"/><path d="M1006.6 837.9V854.7M996.1 837.9h21.0M996.1 854.7h21.0" stroke="#1a8a1a" stroke-width="1.8" fill="none"/>
<polygon points="998.8,850.4 1014.3,850.4 1006.6,836.9" fill="none" stroke="#1a8a1a" stroke-width="1.9"/>
<path d="M1028.6 819.5H1046.3M1028.6 809.0v21.0M1046.3 809.0v21.0" stroke="#0000ff" stroke-width="1.8" fill="none"/><path d="M1037.5 809.8V829.2M1027.0 809.8h21.0M1027.0 829.2h21.0" stroke="#0000ff" stroke-width="1.8" fill="none"/>
<polygon points="1029.7,823.8 1045.2,823.8 1037.5,810.3" fill="none" stroke="#0000ff" stroke-width="1.9"/>
<path d="M1110.3 638.2H1239.4M1110.3 629.2v18M1239.4 629.2v18" stroke="#303030" stroke-width="1.9" fill="none"/><path d="M1174.9 605.1V672.7M1165.9 605.1h18M1165.9 672.7h18" stroke="#303030" stroke-width="1.9" fill="none"/><circle cx="1174.9" cy="638.2" r="7.6" fill="#ff0000" stroke="#111" stroke-width="1.3"/>
<path d="M1232.8 600.5L1217.1 614.6L1194.2 633.8Q1150 661,1128.7 670.4L1014.2 722.5L988.8 736.2L969.2 751.9L960.4 761.7L954.5 775.4L953.5 785.2L959 791" fill="none" stroke="#000" stroke-width="3.4" stroke-linejoin="round" stroke-linecap="round"/>
<path d="M959 789.6L1001.5 791.2M959 792.6L1001.5 794.2" fill="none" stroke="#000" stroke-width="3.4" stroke-linejoin="round" stroke-linecap="round"/>
<path d="M1001.5 792.6L1018.1 798.9L1040.7 801.8" fill="none" stroke="#000" stroke-width="3.4" stroke-linejoin="round" stroke-linecap="round"/>
<circle cx="1232.8" cy="600.5" r="7.4" fill="#808080" stroke="#505050" stroke-width="1.1"/>
<circle cx="1229.9" cy="603.5" r="7.4" fill="#808080" stroke="#505050" stroke-width="1.1"/>
<circle cx="1224.0" cy="608.4" r="7.4" fill="#808080" stroke="#505050" stroke-width="1.1"/>
<circle cx="1217.1" cy="614.6" r="7.4" fill="#808080" stroke="#505050" stroke-width="1.1"/>
<circle cx="1194.2" cy="633.8" r="7.4" fill="#808080" stroke="#505050" stroke-width="1.1"/>
<circle cx="1128.7" cy="670.4" r="7.4" fill="#808080" stroke="#505050" stroke-width="1.1"/>
<circle cx="1014.2" cy="722.5" r="7.4" fill="#808080" stroke="#505050" stroke-width="1.1"/>
<circle cx="960.4" cy="761.7" r="7.4" fill="#808080" stroke="#505050" stroke-width="1.1"/>
<circle cx="959.0" cy="791.0" r="7.4" fill="#808080" stroke="#505050" stroke-width="1.1"/>
<circle cx="1001.5" cy="792.6" r="7.4" fill="#808080" stroke="#505050" stroke-width="1.1"/>
<circle cx="1018.1" cy="798.9" r="7.4" fill="#808080" stroke="#505050" stroke-width="1.1"/>
<circle cx="1040.7" cy="801.8" r="7.4" fill="#808080" stroke="#505050" stroke-width="1.1"/>
<ellipse cx="1175.5" cy="625.3" rx="79.8" ry="82.0" fill="none" stroke="#262626" stroke-width="1.9"/>
<ellipse cx="1174.7" cy="638" rx="66.3" ry="36.4" fill="none" stroke="#f02020" stroke-width="2"/>
<path d="M773.8 600.7 L786.3 597.8 L798.9 594.9 L811.7 592.0 L824.5 589.1 L837.5 586.2 L850.5 583.2 L863.7 580.3 L876.9 577.4 L890.3 574.5 L903.8 571.6 L917.4 568.7 L924.2 567.3" fill="none" stroke="#87767c" stroke-width="1" stroke-dasharray="1.6 0.8"/>
<path d="M775.6 634.8 L786.8 631.9 L798.2 629.0 L809.7 626.1 L821.2 623.2 L832.9 620.3 L844.7 617.4 L856.7 614.5 L868.7 611.6 L880.8 608.7 L893.1 605.8 L905.5 602.9 L918.0 600.0 L930.6 597.1 L943.3 594.2 L956.1 591.2 L969.0 588.3 L982.0 585.4 L995.2 582.5 L1008.4 579.6 L1021.8 576.7 L1035.2 573.8 L1048.8 570.9 L1062.5 568.0 L1065.9 567.3" fill="none" stroke="#87767c" stroke-width="1" stroke-dasharray="1.6 0.8"/>
<path d="M774.5 674.1 L784.3 671.2 L794.1 668.3 L804.1 665.4 L814.2 662.5 L824.4 659.6 L834.7 656.6 L845.1 653.7 L855.7 650.8 L866.4 647.9 L877.1 645.0 L888.0 642.1 L899.1 639.2 L910.2 636.3 L921.4 633.4 L932.8 630.5 L944.3 627.6 L955.9 624.7 L967.6 621.8 L979.4 618.9 L991.3 616.0 L1003.4 613.0 L1015.5 610.1 L1027.8 607.2 L1040.2 604.3 L1052.6 601.4 L1065.2 598.5 L1077.9 595.6 L1090.8 592.7 L1103.7 589.8 L1116.7 586.9 L1129.9 584.0 L1143.1 581.1 L1156.5 578.2 L1169.9 575.3 L1183.5 572.3 L1197.2 569.4 L1207.5 567.3" fill="none" stroke="#87767c" stroke-width="1" stroke-dasharray="1.6 0.8"/>
<path d="M773.6 720.6 L781.4 717.7 L789.4 714.8 L797.5 711.9 L805.7 709.0 L814.0 706.1 L822.5 703.2 L831.0 700.3 L839.8 697.3 L848.6 694.4 L857.5 691.5 L866.6 688.6 L875.8 685.7 L885.1 682.8 L894.6 679.9 L904.1 677.0 L913.8 674.1 L923.6 671.2 L933.5 668.3 L943.5 665.4 L953.7 662.5 L964.0 659.6 L974.4 656.6 L984.9 653.7 L995.5 650.8 L1006.2 647.9 L1017.1 645.0 L1028.1 642.1 L1039.1 639.2 L1050.3 636.3 L1061.7 633.4 L1073.1 630.5 L1084.6 627.6 L1096.3 624.7 L1108.0 621.8 L1119.9 618.9 L1131.9 616.0 L1144.0 613.0 L1156.2 610.1 L1168.6 607.2 L1181.0 604.3 L1193.5 601.4 L1206.2 598.5 L1219.0 595.6 L1231.8 592.7 L1244.8 589.8 L1257.9 586.9 L1271.1 584.0 L1284.4 581.1 L1297.8 578.2 L1307.9 576.0" fill="none" stroke="#87767c" stroke-width="1" stroke-dasharray="1.6 0.8"/>
<path d="M774.2 782.4 L779.3 779.5 L784.5 776.6 L789.9 773.7 L795.4 770.7 L801.1 767.8 L806.9 764.9 L812.8 762.0 L818.9 759.1 L825.1 756.2 L831.4 753.3 L837.9 750.4 L844.5 747.5 L851.2 744.6 L858.0 741.7 L865.0 738.8 L872.1 735.9 L879.4 733.0 L886.8 730.0 L894.3 727.1 L901.9 724.2 L909.6 721.3 L917.5 718.4 L925.5 715.5 L933.7 712.6 L941.9 709.7 L950.3 706.8 L958.8 703.9 L967.4 701.0 L976.2 698.1 L985.0 695.2 L994.0 692.3 L1003.2 689.4 L1012.4 686.4 L1021.8 683.5 L1031.2 680.6 L1040.8 677.7 L1050.6 674.8 L1060.4 671.9 L1070.4 669.0 L1080.4 666.1 L1090.6 663.2 L1100.9 660.3 L1111.4 657.4 L1121.9 654.5 L1132.6 651.6 L1143.4 648.7 L1154.2 645.7 L1165.3 642.8 L1176.4 639.9 L1187.6 637.0 L1199.0 634.1 L1210.4 631.2 L1222.0 628.3 L1233.7 625.4 L1245.5 622.5 L1257.4 619.6 L1269.4 616.7 L1281.6 613.8 L1293.8 610.9 L1306.2 608.0 L1312.4 606.5" fill="none" stroke="#87767c" stroke-width="1" stroke-dasharray="1.6 0.8"/>
<path d="M824.8 857.2 L826.3 854.3 L828.0 851.4 L829.8 848.5 L831.8 845.6 L833.9 842.7 L836.1 839.8 L838.5 836.9 L841.1 834.0 L843.8 831.1 L846.6 828.2 L849.6 825.3 L852.7 822.3 L856.0 819.4 L859.5 816.5 L863.0 813.6 L866.7 810.7 L870.6 807.8 L874.6 804.9 L878.7 802.0 L883.0 799.1 L887.4 796.2 L892.0 793.3 L896.7 790.4 L901.5 787.5 L906.5 784.6 L911.6 781.6 L916.8 778.7 L922.2 775.8 L927.7 772.9 L933.4 770.0 L939.1 767.1 L945.1 764.2 L951.1 761.3 L957.3 758.4 L963.6 755.5 L970.1 752.6 L976.6 749.7 L983.4 746.8 L990.2 743.9 L997.2 741.0 L1004.3 738.0 L1011.5 735.1 L1018.9 732.2 L1026.3 729.3 L1034.0 726.4 L1041.7 723.5 L1049.6 720.6 L1057.5 717.7 L1065.7 714.8 L1073.9 711.9 L1082.3 709.0 L1090.8 706.1 L1099.4 703.2 L1108.1 700.3 L1117.0 697.3 L1125.9 694.4 L1135.0 691.5 L1144.3 688.6 L1153.6 685.7 L1163.1 682.8 L1172.7 679.9 L1182.4 677.0 L1192.2 674.1 L1202.1 671.2 L1212.2 668.3 L1222.4 665.4 L1232.6 662.5 L1243.1 659.6 L1253.6 656.6 L1264.2 653.7 L1275.0 650.8 L1285.9 647.9 L1296.8 645.0 L1307.9 642.1 L1313.5 640.7" fill="none" stroke="#87767c" stroke-width="1" stroke-dasharray="1.6 0.8"/>
<path d="M958.3 857.2 L959.9 854.3 L961.7 851.4 L963.6 848.5 L965.7 845.6 L967.9 842.7 L970.3 839.8 L972.8 836.9 L975.4 834.0 L978.2 831.1 L981.2 828.2 L984.3 825.3 L987.5 822.3 L990.9 819.4 L994.4 816.5 L998.1 813.6 L1001.9 810.7 L1005.8 807.8 L1009.9 804.9 L1014.2 802.0 L1018.5 799.1 L1023.1 796.2 L1027.7 793.3 L1032.5 790.4 L1037.4 787.5 L1042.5 784.6 L1047.7 781.6 L1053.0 778.7 L1058.5 775.8 L1064.1 772.9 L1069.8 770.0 L1075.7 767.1 L1081.7 764.2 L1087.9 761.3 L1094.1 758.4 L1100.5 755.5 L1107.1 752.6 L1113.7 749.7 L1120.5 746.8 L1127.5 743.9 L1134.5 741.0 L1141.7 738.0 L1149.0 735.1 L1156.5 732.2 L1164.0 729.3 L1171.7 726.4 L1179.5 723.5 L1187.5 720.6 L1195.6 717.7 L1203.7 714.8 L1212.1 711.9 L1220.5 709.0 L1229.1 706.1 L1237.8 703.2 L1246.6 700.3 L1255.5 697.3 L1264.6 694.4 L1273.7 691.5 L1283.0 688.6 L1292.5 685.7 L1302.0 682.8 L1311.6 679.9 L1316.5 678.5" fill="none" stroke="#87767c" stroke-width="1" stroke-dasharray="1.6 0.8"/>
<path d="M1091.8 857.2 L1093.5 854.3 L1095.4 851.4 L1097.4 848.5 L1099.6 845.6 L1101.9 842.7 L1104.4 839.8 L1107.0 836.9 L1109.7 834.0 L1112.7 831.1 L1115.7 828.2 L1118.9 825.3 L1122.2 822.3 L1125.7 819.4 L1129.3 816.5 L1133.1 813.6 L1137.0 810.7 L1141.1 807.8 L1145.3 804.9 L1149.6 802.0 L1154.1 799.1 L1158.7 796.2 L1163.4 793.3 L1168.3 790.4 L1173.3 787.5 L1178.5 784.6 L1183.8 781.6 L1189.2 778.7 L1194.8 775.8 L1200.5 772.9 L1206.3 770.0 L1212.3 767.1 L1218.4 764.2 L1224.6 761.3 L1230.9 758.4 L1237.4 755.5 L1244.1 752.6 L1250.8 749.7 L1257.7 746.8 L1264.7 743.9 L1271.8 741.0 L1279.1 738.0 L1286.5 735.1 L1294.0 732.2 L1301.7 729.3 L1309.4 726.4 L1317.3 723.5 L1317.3 723.5" fill="none" stroke="#87767c" stroke-width="1" stroke-dasharray="1.6 0.8"/>
<path d="M1225.2 857.2 L1227.1 854.3 L1229.0 851.4 L1231.2 848.5 L1233.5 845.6 L1235.9 842.7 L1238.5 839.8 L1241.2 836.9 L1244.0 834.0 L1247.1 831.1 L1250.2 828.2 L1253.5 825.3 L1256.9 822.3 L1260.5 819.4 L1264.3 816.5 L1268.1 813.6 L1272.1 810.7 L1276.3 807.8 L1280.6 804.9 L1285.0 802.0 L1289.6 799.1 L1294.3 796.2 L1299.1 793.3 L1304.1 790.4 L1306.6 788.9" fill="none" stroke="#87767c" stroke-width="1" stroke-dasharray="1.6 0.8"/>
<text transform="translate(799.6 666.5) rotate(-22)" text-anchor="middle" font-size="21.5" fill="#a06e30" stroke="#a06e30" stroke-width="0.45" dy="7.6">25.5</text>
<text transform="translate(801.5 712.0) rotate(-23.5)" text-anchor="middle" font-size="21.5" fill="#a06e30" stroke="#a06e30" stroke-width="0.45" dy="7.6">26.0</text>
<text transform="translate(806.7 765.5) rotate(-25)" text-anchor="middle" font-size="21.5" fill="#a06e30" stroke="#a06e30" stroke-width="0.45" dy="7.6">26.5</text>
<text transform="translate(818.1 869.1) rotate(-50)" text-anchor="middle" font-size="21.5" fill="#a06e30" stroke="#a06e30" stroke-width="0.45" dy="7.6">27.0</text>
<text transform="translate(950.6 871.7) rotate(-66)" text-anchor="middle" font-size="21.5" fill="#a06e30" stroke="#a06e30" stroke-width="0.45" dy="7.6">27.5</text>
<text transform="translate(1091.9 868.4) rotate(-67)" text-anchor="middle" font-size="21.5" fill="#a06e30" stroke="#a06e30" stroke-width="0.45" dy="7.6">28.0</text>
<text x="817.2" y="555.1" font-size="30.5">Nov 2019 (Spring)</text>
<text x="1070.4" y="733.3" font-size="25.9">Upper water column</text>
<text x="1274" y="874.2" font-size="36.5" font-weight="bold">d</text>
<rect x="1426.7" y="508.7" width="551.6" height="397.8" fill="#fff" stroke="#808080" stroke-width="1.6"/>
<path d="M1426.7 906.5v5.5M1537.0 906.5v5.5M1647.3 906.5v5.5M1757.7 906.5v5.5M1868.0 906.5v5.5M1978.3 906.5v5.5M1426.7 508.7h-5.5M1426.7 575.0h-5.5M1426.7 641.3h-5.5M1426.7 707.6h-5.5M1426.7 773.9h-5.5M1426.7 840.2h-5.5M1426.7 906.5h-5.5" stroke="#808080" stroke-width="1.5" fill="none"/>
<text x="1426.7" y="944.3" text-anchor="middle" font-weight="bold" font-size="22">33.5</text>
<text x="1537.0" y="944.3" text-anchor="middle" font-weight="bold" font-size="22">34.0</text>
<text x="1647.3" y="944.3" text-anchor="middle" font-weight="bold" font-size="22">34.5</text>
<text x="1757.7" y="944.3" text-anchor="middle" font-weight="bold" font-size="22">35.0</text>
<text x="1868.0" y="944.3" text-anchor="middle" font-weight="bold" font-size="22">35.5</text>
<text x="1978.3" y="944.3" text-anchor="middle" font-weight="bold" font-size="22">36.0</text>
<text x="1409.1" y="516.8" text-anchor="end" font-weight="bold" font-size="22">25</text>
<text x="1409.1" y="583.1" text-anchor="end" font-weight="bold" font-size="22">20</text>
<text x="1409.1" y="649.4" text-anchor="end" font-weight="bold" font-size="22">15</text>
<text x="1409.1" y="715.7" text-anchor="end" font-weight="bold" font-size="22">10</text>
<text x="1409.1" y="782.0" text-anchor="end" font-weight="bold" font-size="22">5</text>
<text x="1409.1" y="848.3" text-anchor="end" font-weight="bold" font-size="22">0</text>
<text x="1409.1" y="914.6" text-anchor="end" font-weight="bold" font-size="22">-5</text>
<polygon points="1839.0,574.2 1850.5,563.2 1862.0,574.2 1850.5,585.2" fill="#fff" stroke="#4a4a4a" stroke-width="1.25"/>
<path d="M1847.9 574.2H1853.1M1847.9 567.7v13.0M1853.1 567.7v13.0" stroke="#6a6a6a" stroke-width="0.9" fill="none"/><path d="M1850.5 573.2V575.2M1844.0 573.2h13.0M1844.0 575.2h13.0" stroke="#6a6a6a" stroke-width="0.9" fill="none"/>
<path d="M1491.7 836.2H1600.9M1491.7 825.7v21.0M1600.9 825.7v21.0" stroke="#303030" stroke-width="2.1" fill="none"/><path d="M1546.0 801.6V871.4M1535.5 801.6h21.0M1535.5 871.4h21.0" stroke="#303030" stroke-width="2.1" fill="none"/>
<circle cx="1546.0" cy="836.2" r="7.6" fill="#008000" stroke="#111" stroke-width="1.3"/>
<path d="M1528.1 736.7H1590.7M1528.1 726.2v21.0M1590.7 726.2v21.0" stroke="#303030" stroke-width="2.1" fill="none"/><path d="M1559.7 717.9V756.2M1549.2 717.9h21.0M1549.2 756.2h21.0" stroke="#303030" stroke-width="2.1" fill="none"/>
<circle cx="1559.7" cy="736.7" r="7.6" fill="#000000" stroke="#111" stroke-width="1.3"/>
<path d="M1643.3 703.2H1687.7M1643.3 692.7v21.0M1687.7 692.7v21.0" stroke="#303030" stroke-width="2.1" fill="none"/>
<circle cx="1664.9" cy="703.2" r="7.6" fill="#0000ff" stroke="#111" stroke-width="1.3"/>
<path d="M1527.7 787.8H1611.3M1527.7 777.3v21.0M1611.3 777.3v21.0" stroke="#303030" stroke-width="2.1" fill="none"/><path d="M1569.4 779.3V796.6M1558.9 779.3h21.0M1558.9 796.6h21.0" stroke="#303030" stroke-width="2.1" fill="none"/>
<rect x="1561.6" y="779.3" width="15.6" height="17.0" fill="#fff" stroke="#2a2a2a" stroke-width="2"/><path d="M1561.6 787.8h15.6M1569.4 779.3v17.0" stroke="#2a2a2a" stroke-width="1.8"/>
<path d="M1597.2 799.9H1679.0M1597.2 789.4v21.0M1679.0 789.4v21.0" stroke="#303030" stroke-width="2.1" fill="none"/><path d="M1638.2 785.2V814.6M1627.7 785.2h21.0M1627.7 814.6h21.0" stroke="#303030" stroke-width="2.1" fill="none"/>
<polygon points="1630.2,804.3 1646.2,804.3 1638.2,790.3" fill="#c0c0c0" stroke="#222" stroke-width="1.8"/>
<path d="M1732.3 797.4H1761.3M1732.3 786.9v21.0M1761.3 786.9v21.0" stroke="#ff0000" stroke-width="1.8" fill="none"/><path d="M1746.5 780.3V814.7M1736.0 780.3h21.0M1736.0 814.7h21.0" stroke="#ff0000" stroke-width="1.8" fill="none"/>
<polygon points="1738.8,801.8 1754.3,801.8 1746.5,788.3" fill="none" stroke="#ff0000" stroke-width="1.9"/>
<path d="M1635.7 847.7H1700.7M1635.7 837.2v21.0M1700.7 837.2v21.0" stroke="#1a8a1a" stroke-width="1.8" fill="none"/><path d="M1667.7 839.6V856.3M1657.2 839.6h21.0M1657.2 856.3h21.0" stroke="#1a8a1a" stroke-width="1.8" fill="none"/>
<polygon points="1660.0,852.0 1675.5,852.0 1667.7,838.5" fill="none" stroke="#1a8a1a" stroke-width="1.9"/>
<path d="M1689.7 821.2H1707.4M1689.7 810.7v21.0M1707.4 810.7v21.0" stroke="#0000ff" stroke-width="1.8" fill="none"/><path d="M1698.6 811.6V831.0M1688.1 811.6h21.0M1688.1 831.0h21.0" stroke="#0000ff" stroke-width="1.8" fill="none"/>
<polygon points="1690.8,825.5 1706.3,825.5 1698.6,812.0" fill="none" stroke="#0000ff" stroke-width="1.9"/>
<path d="M1771.3 640.5H1900.0M1771.3 631.5v18M1900.0 631.5v18" stroke="#303030" stroke-width="1.9" fill="none"/><path d="M1835.7 607.5V674.9M1826.7 607.5h18M1826.7 674.9h18" stroke="#303030" stroke-width="1.9" fill="none"/><circle cx="1835.7" cy="640.5" r="7.6" fill="#ff0000" stroke="#111" stroke-width="1.3"/>
<path d="M1863 626L1852 631.9L1835 641.8L1822.7 651.1L1772 672.2L1744.8 689.2L1704 708.8L1668.4 727.4L1639 749.9L1623.3 767.5L1611.2 782.8L1615.5 790L1639.4 793.6L1676.2 800.4L1690.3 802.4L1715.4 804.8L1722.2 808.3L1718.3 815.5L1700.1 828.6" fill="none" stroke="#000" stroke-width="3.4" stroke-linejoin="round" stroke-linecap="round"/>
<path d="M1616 789L1639.4 792.2L1676 799M1616 791.5L1639.4 795L1676 801.8" fill="none" stroke="#000" stroke-width="3.4" stroke-linejoin="round" stroke-linecap="round"/>
<circle cx="1863.0" cy="626.0" r="7.4" fill="#808080" stroke="#505050" stroke-width="1.1"/>
<circle cx="1852.0" cy="631.9" r="7.4" fill="#808080" stroke="#505050" stroke-width="1.1"/>
<circle cx="1822.7" cy="651.1" r="7.4" fill="#808080" stroke="#505050" stroke-width="1.1"/>
<circle cx="1772.0" cy="672.2" r="7.4" fill="#808080" stroke="#505050" stroke-width="1.1"/>
<circle cx="1744.8" cy="689.2" r="7.4" fill="#808080" stroke="#505050" stroke-width="1.1"/>
<circle cx="1704.0" cy="708.8" r="7.4" fill="#808080" stroke="#505050" stroke-width="1.1"/>
<circle cx="1668.4" cy="727.4" r="7.4" fill="#808080" stroke="#505050" stroke-width="1.1"/>
<circle cx="1611.2" cy="782.8" r="7.4" fill="#808080" stroke="#505050" stroke-width="1.1"/>
<circle cx="1639.4" cy="793.6" r="7.4" fill="#808080" stroke="#505050" stroke-width="1.1"/>
<circle cx="1690.3" cy="802.4" r="7.4" fill="#808080" stroke="#505050" stroke-width="1.1"/>
<circle cx="1715.4" cy="804.8" r="7.4" fill="#808080" stroke="#505050" stroke-width="1.1"/>
<circle cx="1722.2" cy="808.3" r="7.4" fill="#808080" stroke="#505050" stroke-width="1.1"/>
<circle cx="1718.3" cy="815.5" r="7.4" fill="#808080" stroke="#505050" stroke-width="1.1"/>
<circle cx="1700.1" cy="828.6" r="7.4" fill="#808080" stroke="#505050" stroke-width="1.1"/>
<ellipse cx="1838.6" cy="632.3" rx="79.7" ry="82.2" fill="none" stroke="#262626" stroke-width="1.9"/>
<ellipse cx="1835.5" cy="640" rx="66.1" ry="36.5" fill="none" stroke="#f02020" stroke-width="2"/>
<path d="M1430.8 604.1 L1443.3 601.2 L1455.9 598.3 L1468.7 595.4 L1481.5 592.5 L1494.5 589.6 L1507.5 586.6 L1520.7 583.7 L1533.9 580.8 L1547.3 577.9 L1560.8 575.0 L1574.4 572.1 L1581.2 570.7" fill="none" stroke="#87767c" stroke-width="1" stroke-dasharray="1.6 0.8"/>
<path d="M1432.6 638.2 L1443.8 635.3 L1455.2 632.4 L1466.7 629.5 L1478.2 626.6 L1489.9 623.7 L1501.7 620.8 L1513.7 617.9 L1525.7 615.0 L1537.8 612.1 L1550.1 609.2 L1562.5 606.3 L1575.0 603.4 L1587.6 600.5 L1600.3 597.6 L1613.1 594.6 L1626.0 591.7 L1639.0 588.8 L1652.2 585.9 L1665.4 583.0 L1678.8 580.1 L1692.2 577.2 L1705.8 574.3 L1719.5 571.4 L1722.9 570.7" fill="none" stroke="#87767c" stroke-width="1" stroke-dasharray="1.6 0.8"/>
<path d="M1431.5 677.5 L1441.3 674.6 L1451.1 671.7 L1461.1 668.8 L1471.2 665.9 L1481.4 663.0 L1491.7 660.0 L1502.1 657.1 L1512.7 654.2 L1523.4 651.3 L1534.1 648.4 L1545.0 645.5 L1556.1 642.6 L1567.2 639.7 L1578.4 636.8 L1589.8 633.9 L1601.3 631.0 L1612.9 628.1 L1624.6 625.2 L1636.4 622.3 L1648.3 619.4 L1660.4 616.4 L1672.5 613.5 L1684.8 610.6 L1697.2 607.7 L1709.6 604.8 L1722.2 601.9 L1734.9 599.0 L1747.8 596.1 L1760.7 593.2 L1773.7 590.3 L1786.9 587.4 L1800.1 584.5 L1813.5 581.6 L1826.9 578.7 L1840.5 575.7 L1854.2 572.8 L1864.5 570.7" fill="none" stroke="#87767c" stroke-width="1" stroke-dasharray="1.6 0.8"/>
<path d="M1430.6 724.0 L1438.4 721.1 L1446.4 718.2 L1454.5 715.3 L1462.7 712.4 L1471.0 709.5 L1479.5 706.6 L1488.0 703.7 L1496.8 700.7 L1505.6 697.8 L1514.5 694.9 L1523.6 692.0 L1532.8 689.1 L1542.1 686.2 L1551.6 683.3 L1561.1 680.4 L1570.8 677.5 L1580.6 674.6 L1590.5 671.7 L1600.5 668.8 L1610.7 665.9 L1621.0 663.0 L1631.4 660.0 L1641.9 657.1 L1652.5 654.2 L1663.2 651.3 L1674.1 648.4 L1685.1 645.5 L1696.1 642.6 L1707.3 639.7 L1718.7 636.8 L1730.1 633.9 L1741.6 631.0 L1753.3 628.1 L1765.0 625.2 L1776.9 622.3 L1788.9 619.4 L1801.0 616.4 L1813.2 613.5 L1825.6 610.6 L1838.0 607.7 L1850.5 604.8 L1863.2 601.9 L1876.0 599.0 L1888.8 596.1 L1901.8 593.2 L1914.9 590.3 L1928.1 587.4 L1941.4 584.5 L1954.8 581.6 L1964.9 579.4" fill="none" stroke="#87767c" stroke-width="1" stroke-dasharray="1.6 0.8"/>
<path d="M1431.2 785.8 L1436.3 782.9 L1441.5 780.0 L1446.9 777.1 L1452.4 774.1 L1458.1 771.2 L1463.9 768.3 L1469.8 765.4 L1475.9 762.5 L1482.1 759.6 L1488.4 756.7 L1494.9 753.8 L1501.5 750.9 L1508.2 748.0 L1515.0 745.1 L1522.0 742.2 L1529.1 739.3 L1536.4 736.4 L1543.8 733.4 L1551.3 730.5 L1558.9 727.6 L1566.6 724.7 L1574.5 721.8 L1582.5 718.9 L1590.7 716.0 L1598.9 713.1 L1607.3 710.2 L1615.8 707.3 L1624.4 704.4 L1633.2 701.5 L1642.0 698.6 L1651.0 695.7 L1660.2 692.8 L1669.4 689.8 L1678.8 686.9 L1688.2 684.0 L1697.8 681.1 L1707.6 678.2 L1717.4 675.3 L1727.4 672.4 L1737.4 669.5 L1747.6 666.6 L1757.9 663.7 L1768.4 660.8 L1778.9 657.9 L1789.6 655.0 L1800.4 652.1 L1811.2 649.1 L1822.3 646.2 L1833.4 643.3 L1844.6 640.4 L1856.0 637.5 L1867.4 634.6 L1879.0 631.7 L1890.7 628.8 L1902.5 625.9 L1914.4 623.0 L1926.4 620.1 L1938.6 617.2 L1950.8 614.3 L1963.2 611.4 L1969.4 609.9" fill="none" stroke="#87767c" stroke-width="1" stroke-dasharray="1.6 0.8"/>
<path d="M1481.8 860.6 L1483.3 857.7 L1485.0 854.8 L1486.8 851.9 L1488.8 849.0 L1490.9 846.1 L1493.1 843.2 L1495.5 840.3 L1498.1 837.4 L1500.8 834.5 L1503.6 831.6 L1506.6 828.7 L1509.7 825.7 L1513.0 822.8 L1516.5 819.9 L1520.0 817.0 L1523.7 814.1 L1527.6 811.2 L1531.6 808.3 L1535.7 805.4 L1540.0 802.5 L1544.4 799.6 L1549.0 796.7 L1553.7 793.8 L1558.5 790.9 L1563.5 788.0 L1568.6 785.0 L1573.8 782.1 L1579.2 779.2 L1584.7 776.3 L1590.4 773.4 L1596.1 770.5 L1602.1 767.6 L1608.1 764.7 L1614.3 761.8 L1620.6 758.9 L1627.1 756.0 L1633.6 753.1 L1640.4 750.2 L1647.2 747.3 L1654.2 744.4 L1661.3 741.4 L1668.5 738.5 L1675.9 735.6 L1683.3 732.7 L1691.0 729.8 L1698.7 726.9 L1706.6 724.0 L1714.5 721.1 L1722.7 718.2 L1730.9 715.3 L1739.3 712.4 L1747.8 709.5 L1756.4 706.6 L1765.1 703.7 L1774.0 700.7 L1782.9 697.8 L1792.0 694.9 L1801.3 692.0 L1810.6 689.1 L1820.1 686.2 L1829.7 683.3 L1839.4 680.4 L1849.2 677.5 L1859.1 674.6 L1869.2 671.7 L1879.4 668.8 L1889.6 665.9 L1900.1 663.0 L1910.6 660.0 L1921.2 657.1 L1932.0 654.2 L1942.9 651.3 L1953.8 648.4 L1964.9 645.5 L1970.5 644.1" fill="none" stroke="#87767c" stroke-width="1" stroke-dasharray="1.6 0.8"/>
<path d="M1615.3 860.6 L1616.9 857.7 L1618.7 854.8 L1620.6 851.9 L1622.7 849.0 L1624.9 846.1 L1627.3 843.2 L1629.8 840.3 L1632.4 837.4 L1635.2 834.5 L1638.2 831.6 L1641.3 828.7 L1644.5 825.7 L1647.9 822.8 L1651.4 819.9 L1655.1 817.0 L1658.9 814.1 L1662.8 811.2 L1666.9 808.3 L1671.2 805.4 L1675.5 802.5 L1680.1 799.6 L1684.7 796.7 L1689.5 793.8 L1694.4 790.9 L1699.5 788.0 L1704.7 785.0 L1710.0 782.1 L1715.5 779.2 L1721.1 776.3 L1726.8 773.4 L1732.7 770.5 L1738.7 767.6 L1744.9 764.7 L1751.1 761.8 L1757.5 758.9 L1764.1 756.0 L1770.7 753.1 L1777.5 750.2 L1784.5 747.3 L1791.5 744.4 L1798.7 741.4 L1806.0 738.5 L1813.5 735.6 L1821.0 732.7 L1828.7 729.8 L1836.5 726.9 L1844.5 724.0 L1852.6 721.1 L1860.7 718.2 L1869.1 715.3 L1877.5 712.4 L1886.1 709.5 L1894.8 706.6 L1903.6 703.7 L1912.5 700.7 L1921.6 697.8 L1930.7 694.9 L1940.0 692.0 L1949.5 689.1 L1959.0 686.2 L1968.6 683.3 L1973.5 681.9" fill="none" stroke="#87767c" stroke-width="1" stroke-dasharray="1.6 0.8"/>
<path d="M1748.8 860.6 L1750.5 857.7 L1752.4 854.8 L1754.4 851.9 L1756.6 849.0 L1758.9 846.1 L1761.4 843.2 L1764.0 840.3 L1766.7 837.4 L1769.7 834.5 L1772.7 831.6 L1775.9 828.7 L1779.2 825.7 L1782.7 822.8 L1786.3 819.9 L1790.1 817.0 L1794.0 814.1 L1798.1 811.2 L1802.3 808.3 L1806.6 805.4 L1811.1 802.5 L1815.7 799.6 L1820.4 796.7 L1825.3 793.8 L1830.3 790.9 L1835.5 788.0 L1840.8 785.0 L1846.2 782.1 L1851.8 779.2 L1857.5 776.3 L1863.3 773.4 L1869.3 770.5 L1875.4 767.6 L1881.6 764.7 L1887.9 761.8 L1894.4 758.9 L1901.1 756.0 L1907.8 753.1 L1914.7 750.2 L1921.7 747.3 L1928.8 744.4 L1936.1 741.4 L1943.5 738.5 L1951.0 735.6 L1958.7 732.7 L1966.4 729.8 L1974.3 726.9 L1974.3 726.9" fill="none" stroke="#87767c" stroke-width="1" stroke-dasharray="1.6 0.8"/>
<path d="M1882.2 860.6 L1884.1 857.7 L1886.0 854.8 L1888.2 851.9 L1890.5 849.0 L1892.9 846.1 L1895.5 843.2 L1898.2 840.3 L1901.0 837.4 L1904.1 834.5 L1907.2 831.6 L1910.5 828.7 L1913.9 825.7 L1917.5 822.8 L1921.3 819.9 L1925.1 817.0 L1929.1 814.1 L1933.3 811.2 L1937.6 808.3 L1942.0 805.4 L1946.6 802.5 L1951.3 799.6 L1956.1 796.7 L1961.1 793.8 L1963.6 792.3" fill="none" stroke="#87767c" stroke-width="1" stroke-dasharray="1.6 0.8"/>
<text transform="translate(1456.6 669.9) rotate(-22)" text-anchor="middle" font-size="21.5" fill="#a06e30" stroke="#a06e30" stroke-width="0.45" dy="7.6">25.5</text>
<text transform="translate(1458.5 715.4) rotate(-23.5)" text-anchor="middle" font-size="21.5" fill="#a06e30" stroke="#a06e30" stroke-width="0.45" dy="7.6">26.0</text>
<text transform="translate(1463.7 768.9) rotate(-25)" text-anchor="middle" font-size="21.5" fill="#a06e30" stroke="#a06e30" stroke-width="0.45" dy="7.6">26.5</text>
<text transform="translate(1475.1 872.5) rotate(-50)" text-anchor="middle" font-size="21.5" fill="#a06e30" stroke="#a06e30" stroke-width="0.45" dy="7.6">27.0</text>
<text transform="translate(1607.6 875.1) rotate(-66)" text-anchor="middle" font-size="21.5" fill="#a06e30" stroke="#a06e30" stroke-width="0.45" dy="7.6">27.5</text>
<text transform="translate(1748.9 871.8) rotate(-67)" text-anchor="middle" font-size="21.5" fill="#a06e30" stroke="#a06e30" stroke-width="0.45" dy="7.6">28.0</text>
<text x="1454.0" y="552.4" font-size="30.9">Aug 2019 (Winter)</text>
<text x="1930" y="874.7" font-size="36.5" font-weight="bold">e</text>
<text transform="translate(35.7 223) rotate(-90)" text-anchor="middle" font-size="25.6" font-weight="bold">pT (<tspan font-size="15" dy="-9">o</tspan><tspan dy="9">C)</tspan></text>
<text transform="translate(32.3 706.8) rotate(-90)" text-anchor="middle" font-size="25.6" font-weight="bold">pT (<tspan font-size="15" dy="-9">o</tspan><tspan dy="9">C)</tspan></text>
<text x="369.3" y="999.4" font-size="27" font-weight="bold">S<tspan font-size="21.5" dx="2" dy="1.6">p</tspan></text>
<text x="1032.9" y="1005.5" font-size="27" font-weight="bold">S<tspan font-size="21.5" dx="2" dy="1.6">p</tspan></text>
<text x="1693.4" y="1006.7" font-size="27" font-weight="bold">S<tspan font-size="21.5" dx="2" dy="1.6">p</tspan></text>
<rect x="1439.8" y="9" width="259.0" height="429.9" fill="#fff" stroke="#808080" stroke-width="1.6"/>
<path d="M1698.8 9V438.9" stroke="#444" stroke-width="1.6"/>
<polygon points="1485.5,50.0 1497.0,39.0 1508.5,50.0 1497.0,61.0" fill="#fff" stroke="#4a4a4a" stroke-width="1.25"/>
<text x="1542.5" y="59.3" font-size="26">AC</text>
<circle cx="1497.0" cy="84.5" r="8.2" fill="#ff0000" stroke="#111" stroke-width="1.3"/>
<text x="1542.5" y="93.8" font-size="26">STSW</text>
<circle cx="1497.0" cy="119.4" r="8.2" fill="#000000" stroke="#111" stroke-width="1.3"/>
<text x="1542.5" y="128.7" font-size="26">SASW</text>
<circle cx="1497.0" cy="154.0" r="8.2" fill="#0000ff" stroke="#111" stroke-width="1.3"/>
<text x="1542.5" y="163.3" font-size="26">SAMW</text>
<circle cx="1497.0" cy="188.7" r="8.2" fill="#008000" stroke="#111" stroke-width="1.3"/>
<text x="1542.5" y="198.0" font-size="26">AASW</text>
<rect x="1490.0" y="216.5" width="14" height="14" fill="#fff" stroke="#2a2a2a" stroke-width="2"/><path d="M1490.0 223.5h14M1497.0 216.5v14" stroke="#2a2a2a" stroke-width="1.8"/>
<text x="1542.5" y="232.8" font-size="26">AAIW</text>
<polygon points="1489.0,262.8 1505.0,262.8 1497.0,248.8" fill="#c0c0c0" stroke="#222" stroke-width="1.8"/>
<text x="1542.5" y="267.6" font-size="26">UCDW</text>
<polygon points="1489.2,297.5 1504.8,297.5 1497.0,284.0" fill="none" stroke="#ff0000" stroke-width="1.9"/>
<text x="1542.5" y="302.5" font-size="26">NADW</text>
<polygon points="1489.2,332.4 1504.8,332.4 1497.0,318.9" fill="none" stroke="#1a8a1a" stroke-width="1.9"/>
<text x="1542.5" y="337.4" font-size="26">AABW</text>
<polygon points="1489.2,367.3 1504.8,367.3 1497.0,353.8" fill="none" stroke="#0000ff" stroke-width="1.9"/>
<text x="1542.5" y="372.3" font-size="26">LCDW</text>
<path d="M1465 397.9H1528.6" stroke="#111" stroke-width="3.2"/>
<circle cx="1497" cy="397.9" r="8" fill="#808080" stroke="#4a4a4a" stroke-width="1.2"/>
<text x="1542.5" y="407.2" font-size="26">Cape basin</text>
</svg></body></html>
